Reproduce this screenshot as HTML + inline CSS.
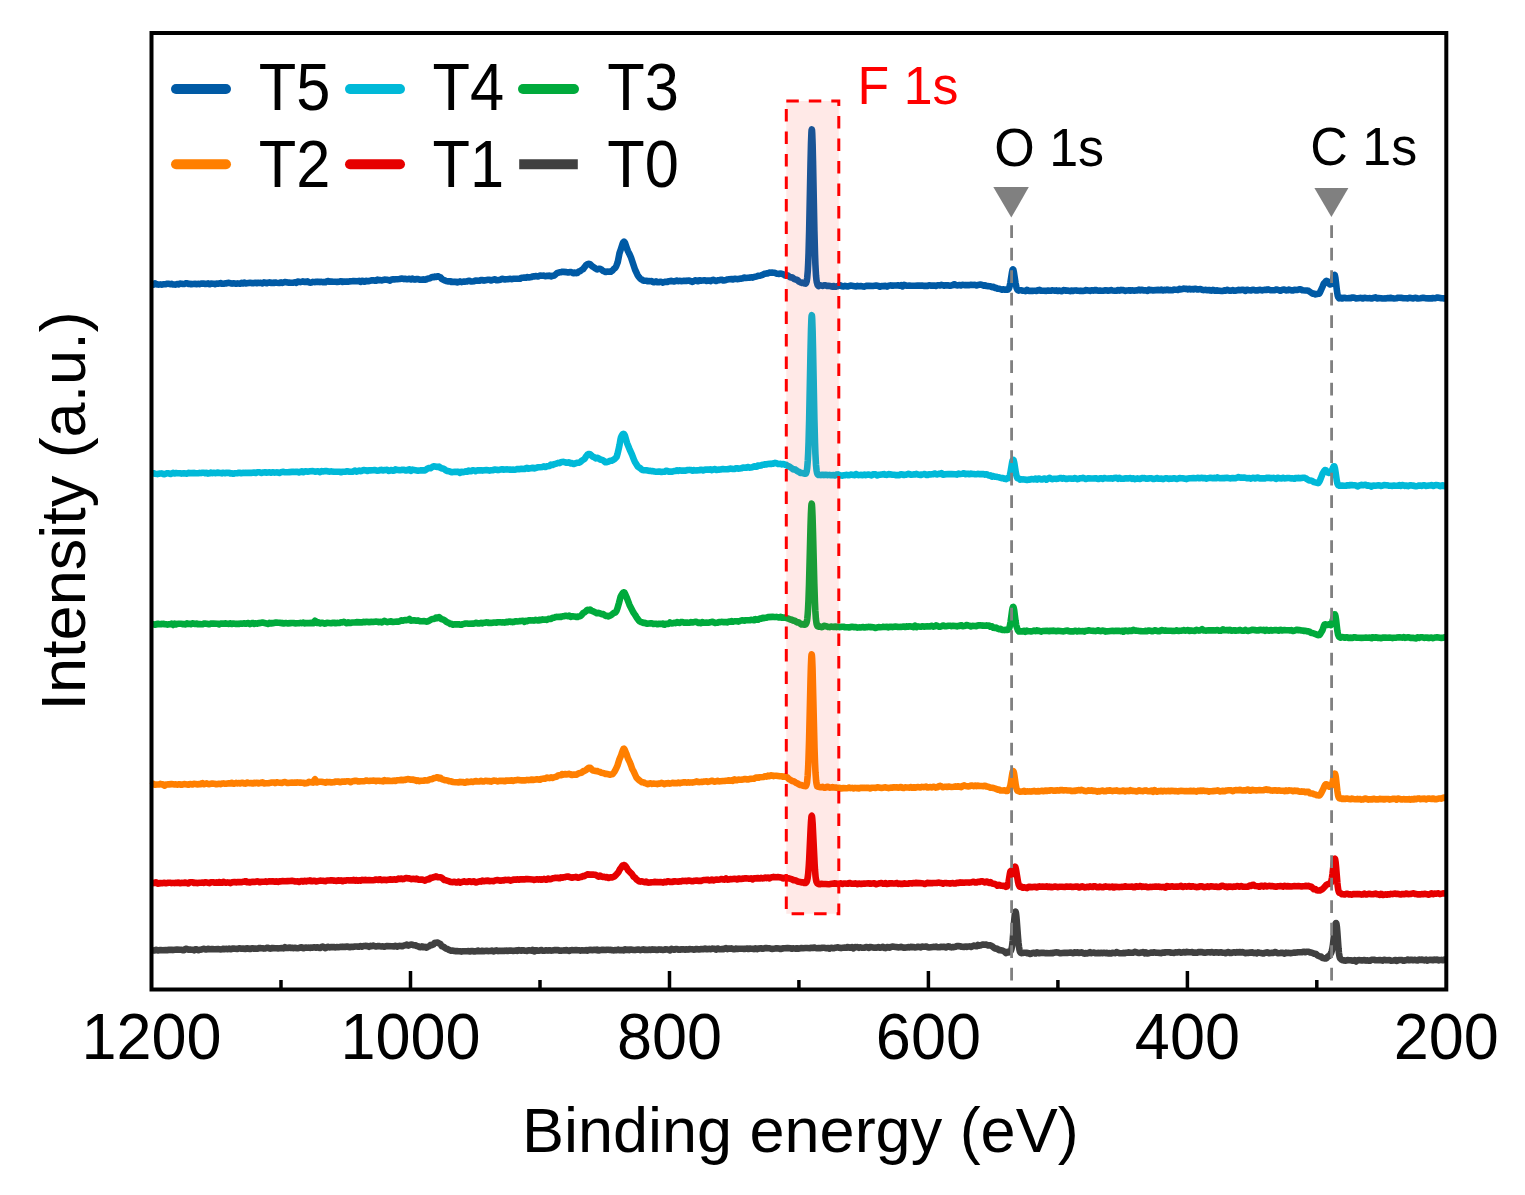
<!DOCTYPE html>
<html>
<head>
<meta charset="utf-8">
<style>
html,body{margin:0;padding:0;background:#fff;}
svg{display:block;}
text{font-family:"Liberation Sans",Arial,sans-serif;}
</style>
</head>
<body>
<svg width="1525" height="1195" viewBox="0 0 1525 1195">
<rect x="0" y="0" width="1525" height="1195" fill="#fff"/>
<g fill="none" stroke-width="6.6" stroke-linejoin="round" stroke-linecap="butt">
<path d="M152.0,950.4 L153.5,950.5 L154.5,950.4 L155.0,950.3 L156.0,949.9 L156.5,949.9 L157.5,950.5 L158.0,950.5 L159.0,950.3 L160.5,950.0 L162.0,950.3 L166.0,950.1 L167.5,950.2 L168.5,949.8 L169.0,949.8 L170.0,949.9 L171.5,949.8 L173.0,950.1 L177.0,949.6 L180.0,949.8 L181.5,949.7 L182.5,950.1 L183.0,950.2 L184.0,950.1 L184.5,949.8 L185.5,948.9 L186.0,948.8 L187.0,949.0 L188.5,949.6 L190.0,949.5 L191.0,949.7 L192.5,949.7 L194.0,950.3 L195.0,949.5 L195.5,949.2 L196.5,949.3 L197.0,949.5 L198.0,950.1 L198.5,950.1 L199.5,949.7 L201.0,949.7 L203.5,948.9 L204.0,948.9 L205.0,949.3 L205.5,949.4 L206.5,949.4 L208.0,948.9 L210.5,949.2 L211.0,949.2 L212.0,949.0 L212.5,949.0 L213.5,949.2 L215.0,949.2 L218.0,949.0 L219.0,949.3 L220.5,949.4 L222.0,949.2 L223.5,948.8 L224.5,949.2 L225.0,949.2 L226.0,948.9 L226.5,948.9 L227.5,949.3 L228.0,949.1 L229.0,948.6 L230.5,949.2 L233.0,948.5 L233.5,948.5 L235.0,948.8 L237.0,948.9 L237.5,948.9 L239.0,948.4 L240.0,948.4 L241.5,948.8 L243.0,948.6 L245.5,948.9 L246.0,948.8 L247.0,948.2 L247.5,948.2 L248.5,948.7 L250.0,949.0 L251.5,948.5 L252.5,948.3 L253.0,948.3 L254.0,948.7 L254.5,948.8 L255.5,948.6 L257.0,948.8 L259.5,948.0 L260.0,948.0 L261.0,948.3 L261.5,948.3 L262.5,948.2 L264.0,948.6 L265.5,948.4 L266.5,947.9 L267.0,947.8 L268.0,947.9 L269.5,948.5 L270.0,948.6 L271.0,948.5 L272.5,948.0 L275.0,948.3 L276.5,948.3 L278.0,948.4 L279.5,948.2 L282.0,948.0 L283.5,948.4 L284.0,948.1 L285.0,947.2 L286.5,947.9 L287.5,948.0 L288.0,947.9 L289.0,947.5 L289.5,947.6 L290.5,948.0 L292.0,947.7 L293.5,948.2 L294.5,947.9 L295.0,947.9 L297.5,948.2 L299.0,947.9 L300.5,947.5 L301.5,947.3 L302.0,947.4 L303.0,948.2 L303.5,948.2 L304.5,947.7 L306.0,947.5 L307.5,947.7 L309.0,947.6 L310.0,947.9 L310.5,947.9 L311.5,947.6 L313.0,947.6 L314.5,947.3 L315.5,947.6 L316.0,947.6 L317.0,947.2 L317.5,947.3 L318.5,947.7 L320.0,948.0 L321.5,946.9 L322.5,946.6 L323.0,946.7 L324.0,947.5 L325.5,948.2 L326.0,947.9 L327.0,947.0 L328.0,946.9 L328.5,946.9 L329.5,947.4 L330.0,947.4 L331.0,947.1 L331.5,947.0 L334.0,947.1 L335.5,947.4 L336.5,947.1 L337.0,947.1 L338.0,947.2 L338.5,947.2 L341.0,946.8 L342.5,946.9 L343.5,946.7 L344.0,946.7 L345.0,947.0 L345.5,946.9 L346.5,946.6 L348.0,946.5 L349.0,947.1 L349.5,947.3 L351.0,946.8 L352.0,946.7 L353.5,946.9 L355.0,946.5 L356.5,946.5 L358.0,946.6 L359.0,946.6 L360.5,946.0 L361.0,946.2 L362.0,946.6 L363.5,946.1 L365.0,945.9 L367.5,946.1 L369.0,946.8 L370.0,946.1 L370.5,945.8 L371.5,946.2 L372.0,946.1 L373.0,945.6 L373.5,945.6 L374.5,946.1 L376.0,946.5 L377.5,946.1 L379.0,946.0 L380.0,946.2 L381.5,946.4 L383.0,946.4 L384.5,946.8 L386.0,946.2 L387.0,946.0 L391.5,946.3 L394.0,946.4 L394.5,946.3 L395.5,945.8 L396.0,946.1 L397.0,946.7 L398.5,946.1 L399.5,945.9 L400.0,945.9 L401.0,946.1 L401.5,946.2 L402.5,946.1 L404.0,945.5 L405.5,945.1 L406.5,944.6 L407.0,944.7 L408.0,945.5 L408.5,945.6 L411.0,944.5 L412.5,944.8 L413.5,945.2 L414.0,945.3 L415.0,945.2 L415.5,945.3 L416.5,946.0 L418.0,946.2 L419.5,947.1 L420.5,947.3 L421.0,947.1 L422.0,946.4 L422.5,946.5 L423.5,947.3 L424.0,947.2 L425.0,946.8 L426.0,947.4 L426.5,947.6 L428.0,946.7 L429.0,946.3 L429.5,946.0 L430.5,945.0 L431.0,944.9 L432.0,945.1 L433.0,944.6 L433.5,944.3 L434.5,943.1 L435.0,942.7 L436.0,942.8 L437.5,942.6 L438.0,942.7 L439.0,943.4 L440.0,943.8 L440.5,944.1 L441.5,945.8 L442.0,946.3 L443.0,946.5 L443.5,946.8 L446.0,948.6 L447.5,949.0 L449.0,949.9 L451.5,950.8 L452.0,950.8 L453.0,950.6 L454.5,951.0 L455.5,951.1 L457.0,951.1 L458.5,951.3 L460.0,951.2 L461.5,951.6 L463.0,951.3 L464.0,951.3 L465.5,951.2 L467.0,951.2 L468.5,951.0 L469.5,951.4 L470.0,951.5 L471.0,951.0 L471.5,951.0 L472.5,951.1 L474.0,951.4 L475.5,951.4 L477.0,951.0 L478.0,950.6 L478.5,950.7 L479.5,951.3 L481.0,951.2 L482.0,950.8 L482.5,950.7 L483.5,951.2 L484.0,951.3 L485.0,950.9 L486.5,950.7 L488.0,951.1 L489.5,951.0 L490.5,951.0 L491.0,951.0 L492.0,950.5 L492.5,950.7 L493.5,951.5 L494.0,951.3 L495.0,950.7 L496.0,950.5 L496.5,950.4 L497.5,951.0 L498.0,951.1 L499.0,950.8 L499.5,950.8 L500.5,951.0 L502.0,950.8 L504.5,950.9 L505.0,950.9 L506.0,950.6 L506.5,950.7 L507.5,951.0 L509.0,950.6 L510.5,950.5 L512.0,950.8 L513.0,950.9 L516.0,950.4 L517.0,950.8 L517.5,950.9 L518.5,950.3 L519.0,950.1 L521.5,950.7 L523.0,950.2 L524.5,950.7 L526.0,950.7 L527.0,950.9 L527.5,950.8 L528.5,950.4 L530.0,950.4 L531.0,950.6 L531.5,950.6 L532.5,949.9 L533.0,950.0 L534.0,951.4 L534.5,951.4 L535.5,950.4 L536.0,950.3 L537.0,950.3 L538.5,950.8 L540.0,950.4 L541.0,950.0 L541.5,950.1 L542.5,950.7 L544.0,950.8 L545.5,950.3 L547.0,950.4 L548.0,950.6 L548.5,950.5 L549.5,950.2 L551.0,950.6 L552.5,950.5 L555.0,950.0 L555.5,950.0 L556.5,950.3 L558.0,950.1 L559.5,950.7 L561.0,950.5 L562.0,950.6 L563.5,950.4 L565.0,950.4 L566.5,950.1 L569.0,950.9 L569.5,950.8 L570.5,950.3 L571.0,950.2 L572.0,950.1 L573.5,950.2 L576.0,950.0 L577.5,950.3 L579.0,950.2 L580.5,950.7 L581.5,950.4 L582.0,950.3 L584.5,950.5 L586.0,950.1 L587.0,950.5 L587.5,950.7 L588.5,950.1 L589.0,950.0 L590.0,949.9 L593.0,950.1 L594.5,949.7 L595.5,950.0 L596.0,950.1 L597.0,949.6 L597.5,949.8 L598.5,950.5 L599.0,950.5 L600.0,950.1 L601.5,949.9 L603.0,949.8 L605.5,950.0 L607.0,949.7 L608.5,949.8 L610.0,950.0 L611.0,949.9 L611.5,950.0 L612.5,950.3 L614.0,950.4 L615.5,950.0 L616.5,950.1 L617.0,950.1 L618.0,949.6 L618.5,949.7 L619.5,950.1 L621.0,950.0 L622.5,950.1 L623.5,950.4 L624.0,950.3 L625.0,949.3 L625.5,949.3 L626.5,949.9 L627.0,949.9 L628.0,949.5 L629.0,949.9 L629.5,950.1 L630.5,949.6 L631.0,949.5 L633.5,949.9 L635.0,950.1 L638.0,949.6 L639.0,949.6 L640.5,950.1 L642.0,949.8 L643.0,949.4 L643.5,949.2 L644.5,949.9 L645.0,950.0 L646.0,949.9 L647.5,950.0 L649.0,949.6 L650.5,949.9 L651.5,949.5 L652.0,949.4 L653.0,949.8 L653.5,949.8 L654.5,949.5 L656.0,949.9 L657.0,950.0 L657.5,949.9 L658.5,949.5 L659.0,949.4 L660.0,949.6 L661.5,949.6 L663.0,950.0 L664.5,949.8 L665.5,949.3 L666.0,949.2 L667.0,949.6 L668.5,949.8 L670.0,950.3 L671.0,949.3 L671.5,948.9 L673.0,949.4 L674.0,949.8 L674.5,949.7 L675.5,949.0 L676.0,949.0 L677.0,949.0 L678.5,949.6 L679.5,949.7 L680.0,949.7 L681.0,949.2 L681.5,949.2 L682.5,949.5 L684.0,949.4 L685.5,949.8 L686.5,949.4 L687.0,949.4 L688.0,949.6 L688.5,949.5 L689.5,949.0 L691.0,949.2 L692.5,949.3 L693.5,949.6 L694.0,949.6 L695.0,949.5 L696.5,949.0 L698.0,949.4 L699.5,949.4 L701.0,949.1 L703.5,949.1 L705.0,948.5 L706.5,949.2 L708.0,949.1 L709.0,948.8 L709.5,948.9 L710.5,949.3 L711.0,949.1 L712.0,948.6 L713.5,948.8 L714.5,948.9 L715.0,949.0 L716.0,949.6 L716.5,949.4 L717.5,948.5 L718.0,948.6 L719.0,949.2 L720.5,949.3 L722.0,949.1 L723.0,949.3 L723.5,949.2 L724.5,948.6 L726.0,948.1 L727.0,948.8 L727.5,949.1 L728.5,948.6 L729.0,948.5 L730.0,948.7 L730.5,948.7 L731.5,948.4 L733.0,949.2 L734.5,949.1 L735.5,948.7 L736.0,948.6 L737.0,949.0 L737.5,949.0 L738.5,948.8 L740.0,948.7 L741.5,948.7 L743.0,948.7 L744.0,948.9 L744.5,948.9 L747.0,948.5 L748.5,949.0 L749.5,948.5 L750.0,948.5 L751.0,948.7 L752.5,948.7 L754.0,949.1 L755.0,948.6 L755.5,948.4 L756.5,949.0 L757.0,949.1 L758.0,948.7 L758.5,948.6 L761.0,948.3 L762.5,948.7 L764.0,948.4 L765.0,948.1 L766.5,948.1 L768.0,948.2 L769.5,948.2 L771.0,948.8 L772.0,948.9 L775.0,948.5 L776.5,948.2 L779.0,948.6 L780.5,949.0 L783.5,948.2 L785.0,948.2 L787.5,948.0 L790.5,948.3 L791.5,948.7 L792.0,948.7 L793.0,948.3 L793.5,948.3 L794.5,948.6 L796.0,948.8 L797.0,948.3 L797.5,948.2 L798.5,948.6 L799.0,948.6 L801.5,948.0 L803.0,948.2 L805.5,948.0 L807.0,948.0 L810.0,948.2 L811.5,947.7 L812.5,947.9 L813.0,947.9 L814.0,947.5 L814.5,947.6 L815.5,948.0 L817.0,948.2 L818.5,948.0 L821.0,948.1 L821.5,948.0 L822.5,947.7 L824.0,947.8 L826.5,948.2 L827.0,948.2 L828.0,948.0 L828.5,948.1 L829.5,948.7 L830.0,948.4 L831.0,947.8 L832.5,948.1 L833.5,948.2 L834.0,948.2 L835.5,947.7 L838.0,947.3 L839.5,947.8 L840.5,948.0 L841.0,948.1 L842.0,947.8 L843.5,947.8 L845.0,947.5 L846.0,947.8 L846.5,947.8 L847.5,947.1 L848.0,947.0 L849.0,947.6 L849.5,947.7 L850.5,947.6 L852.0,947.1 L853.0,948.0 L853.5,948.3 L854.5,947.4 L855.0,947.1 L856.0,947.2 L857.5,947.1 L859.0,947.9 L860.0,947.4 L860.5,947.3 L861.5,947.6 L862.0,947.8 L863.0,947.7 L864.5,947.6 L866.0,947.0 L867.5,947.3 L868.5,947.9 L869.0,947.9 L870.0,947.1 L870.5,947.0 L873.0,947.4 L874.5,947.7 L876.0,947.5 L877.0,947.6 L877.5,947.5 L878.5,947.0 L879.0,947.2 L880.0,947.7 L881.5,947.5 L882.5,946.9 L883.0,946.9 L884.0,947.7 L884.5,947.9 L885.5,948.1 L886.0,947.8 L887.0,947.0 L888.5,947.3 L889.5,947.7 L890.0,947.6 L891.0,946.9 L891.5,946.7 L892.5,946.6 L895.5,947.0 L897.0,947.1 L898.0,947.4 L898.5,947.4 L899.5,947.3 L901.0,946.7 L902.5,947.4 L903.5,947.7 L904.0,947.8 L905.0,947.6 L906.5,947.5 L908.0,947.1 L909.5,947.4 L910.5,946.9 L911.0,946.8 L912.0,947.3 L912.5,947.3 L913.5,947.1 L915.0,947.4 L916.5,947.2 L917.5,946.8 L918.0,946.7 L920.5,947.4 L921.0,947.2 L922.0,946.6 L923.5,946.8 L925.0,946.7 L926.0,946.5 L926.5,946.6 L927.5,947.2 L929.0,947.4 L933.0,946.9 L934.5,947.0 L936.0,946.6 L937.5,947.2 L940.0,947.2 L941.5,946.7 L943.0,946.9 L944.5,946.8 L945.5,947.3 L946.0,947.4 L947.0,947.0 L948.5,946.2 L949.0,946.4 L950.0,947.0 L951.5,947.4 L953.0,947.0 L954.0,947.1 L955.5,946.8 L957.0,946.1 L958.5,946.1 L960.0,946.3 L961.5,946.7 L964.0,946.9 L965.5,946.6 L966.5,946.9 L967.0,946.9 L968.0,946.6 L969.5,946.4 L971.0,946.9 L973.5,945.7 L974.0,945.6 L975.0,946.0 L976.5,946.3 L977.0,945.9 L978.0,944.9 L979.5,945.6 L981.0,945.2 L982.0,944.8 L982.5,944.6 L983.5,944.5 L985.0,944.7 L986.0,944.6 L986.5,944.7 L987.5,945.2 L988.0,945.4 L989.0,945.4 L990.5,945.3 L992.0,946.1 L994.5,948.2 L995.0,948.4 L996.0,948.5 L997.5,949.0 L999.0,950.1 L1000.5,950.1 L1002.0,950.6 L1003.0,950.8 L1004.5,951.6 L1006.0,953.0 L1007.5,951.9 L1008.7,952.4 L1009.0,952.3 L1009.7,951.9 L1010.5,951.2 L1010.9,950.7 L1011.5,949.0 L1012.1,945.8 L1012.7,940.5 L1014.3,919.6 L1014.7,915.3 L1015.1,912.6 L1015.3,911.9 L1015.5,911.7 L1015.7,912.0 L1015.9,912.8 L1016.3,915.7 L1016.7,920.1 L1018.1,938.6 L1018.5,942.9 L1019.0,947.0 L1019.5,949.9 L1020.0,951.8 L1020.5,952.6 L1020.9,952.9 L1021.3,953.1 L1021.9,953.1 L1022.9,952.9 L1024.0,952.8 L1025.5,952.7 L1027.0,953.2 L1028.0,953.0 L1028.5,953.0 L1029.5,953.7 L1030.0,953.9 L1031.0,953.7 L1032.5,953.0 L1033.0,952.9 L1034.0,952.9 L1035.0,953.4 L1035.5,953.5 L1036.5,952.6 L1037.0,952.4 L1039.5,953.3 L1040.0,953.1 L1041.0,952.7 L1044.0,952.9 L1045.0,953.2 L1045.5,953.2 L1046.5,953.1 L1049.5,953.2 L1050.5,953.1 L1051.0,953.1 L1052.0,953.3 L1052.5,953.3 L1053.5,952.8 L1054.0,952.7 L1055.0,952.5 L1056.5,952.4 L1058.0,952.5 L1059.0,952.8 L1060.5,953.3 L1064.5,952.7 L1067.5,952.9 L1069.0,952.8 L1070.5,952.5 L1072.0,952.9 L1073.0,953.3 L1073.5,953.1 L1074.5,952.3 L1075.0,952.4 L1076.0,952.9 L1077.0,952.4 L1077.5,952.3 L1078.5,952.9 L1079.0,953.0 L1080.0,952.8 L1081.5,952.3 L1082.0,952.5 L1083.0,953.0 L1084.0,953.5 L1084.5,953.6 L1085.5,953.2 L1086.0,953.1 L1087.0,953.4 L1087.5,953.3 L1088.5,953.0 L1090.0,952.2 L1091.0,952.9 L1091.5,953.1 L1094.0,952.5 L1094.5,952.7 L1095.5,953.2 L1096.0,953.2 L1098.5,952.9 L1099.5,953.2 L1100.0,953.2 L1101.0,952.8 L1101.5,952.8 L1102.5,953.2 L1104.0,952.7 L1105.5,953.1 L1106.5,952.7 L1107.0,952.7 L1108.0,953.4 L1108.5,953.4 L1109.5,953.1 L1111.0,953.5 L1112.5,952.7 L1114.0,952.9 L1115.0,953.2 L1115.5,953.0 L1116.5,952.1 L1117.0,952.2 L1119.5,953.3 L1121.0,953.2 L1122.0,953.3 L1122.5,953.2 L1123.5,952.9 L1125.0,953.2 L1126.5,952.7 L1129.0,952.4 L1130.5,952.7 L1133.0,952.7 L1133.5,952.6 L1134.5,951.9 L1135.0,951.8 L1137.5,952.7 L1139.0,953.0 L1140.5,952.6 L1142.0,952.5 L1143.0,952.1 L1143.5,952.3 L1144.5,953.4 L1145.0,953.2 L1146.0,952.4 L1147.5,953.4 L1149.0,953.2 L1150.0,952.9 L1151.5,952.5 L1153.0,952.7 L1154.5,952.3 L1155.5,952.6 L1156.0,952.7 L1157.5,952.7 L1161.5,953.1 L1162.5,952.6 L1163.0,952.5 L1164.0,952.8 L1164.5,952.8 L1165.5,952.3 L1166.0,952.2 L1167.0,952.2 L1168.5,952.3 L1169.5,952.2 L1170.0,952.2 L1171.0,952.7 L1171.5,952.8 L1172.5,952.8 L1174.0,952.9 L1175.5,952.4 L1177.0,952.5 L1179.5,952.0 L1181.0,952.6 L1182.5,952.5 L1183.5,952.1 L1184.0,952.1 L1185.0,952.5 L1185.5,952.4 L1186.5,951.8 L1187.0,951.9 L1188.0,952.3 L1189.5,952.2 L1191.0,952.2 L1192.0,952.1 L1192.5,952.2 L1193.5,952.7 L1195.0,952.6 L1196.5,952.8 L1199.0,952.0 L1199.5,952.0 L1200.5,952.3 L1202.0,952.0 L1203.5,952.6 L1204.5,952.8 L1205.0,952.8 L1207.5,952.3 L1209.0,952.3 L1210.5,952.5 L1211.5,952.1 L1212.0,952.1 L1213.0,952.5 L1213.5,952.6 L1214.5,952.6 L1216.0,952.3 L1219.0,952.6 L1220.0,952.3 L1221.5,952.3 L1223.0,952.8 L1224.5,952.7 L1225.5,953.1 L1226.0,953.1 L1227.0,952.4 L1227.5,952.2 L1228.5,952.0 L1230.0,953.0 L1231.0,953.0 L1231.5,952.9 L1233.0,952.4 L1234.0,952.2 L1234.5,952.3 L1235.5,952.6 L1237.0,952.1 L1238.0,952.4 L1238.5,952.5 L1239.5,952.1 L1240.0,952.0 L1241.0,952.5 L1241.5,952.5 L1242.5,952.0 L1243.0,952.2 L1245.0,953.1 L1245.5,953.2 L1246.5,952.8 L1247.0,952.7 L1248.0,953.0 L1248.5,952.9 L1249.5,952.6 L1252.5,952.4 L1253.5,953.0 L1254.0,953.1 L1255.0,952.9 L1255.5,952.9 L1256.5,953.4 L1257.0,953.1 L1258.0,952.4 L1259.5,952.8 L1261.0,953.0 L1262.5,953.4 L1263.5,953.5 L1265.0,952.7 L1267.5,952.4 L1268.0,952.5 L1269.0,953.2 L1269.5,953.3 L1270.5,952.9 L1272.0,952.7 L1273.0,952.9 L1273.5,952.9 L1274.5,952.2 L1275.0,952.1 L1276.0,952.3 L1276.5,952.6 L1277.5,953.2 L1278.0,953.2 L1280.5,953.0 L1281.5,952.7 L1282.0,952.7 L1284.5,953.6 L1285.0,953.3 L1286.0,952.6 L1287.5,953.0 L1289.0,952.9 L1290.0,953.1 L1290.5,953.1 L1293.0,952.8 L1294.5,952.5 L1295.5,952.6 L1296.0,952.6 L1297.0,952.4 L1297.5,952.3 L1298.5,952.3 L1300.0,952.2 L1301.5,952.3 L1303.0,951.8 L1304.0,951.8 L1305.5,952.2 L1307.0,951.7 L1308.0,951.7 L1308.5,951.8 L1310.0,952.4 L1311.0,952.5 L1312.0,952.8 L1314.0,953.6 L1315.5,953.7 L1317.0,954.9 L1318.5,955.9 L1319.5,956.4 L1321.0,956.5 L1322.0,957.6 L1322.5,958.0 L1324.0,958.2 L1325.0,958.5 L1325.5,958.5 L1326.0,958.4 L1326.5,958.1 L1327.0,957.6 L1328.0,956.4 L1329.3,955.9 L1329.5,955.7 L1330.5,954.2 L1331.3,952.5 L1331.7,951.3 L1332.3,948.7 L1332.9,945.0 L1334.5,930.9 L1335.1,926.3 L1335.5,924.2 L1335.7,923.5 L1336.0,923.1 L1336.1,923.1 L1336.3,923.4 L1336.5,924.1 L1336.9,927.0 L1337.3,931.6 L1338.5,948.4 L1338.9,952.6 L1339.3,955.6 L1339.7,957.3 L1340.1,958.3 L1341.1,959.4 L1342.1,960.0 L1343.5,960.4 L1346.0,960.6 L1346.5,960.5 L1347.5,960.1 L1349.0,960.3 L1350.5,960.3 L1352.0,960.6 L1353.0,960.7 L1353.5,960.6 L1354.5,960.1 L1355.0,960.5 L1356.0,961.5 L1357.5,960.2 L1359.0,960.1 L1360.0,960.3 L1361.5,960.4 L1363.0,960.4 L1364.0,960.1 L1364.5,960.0 L1365.5,960.5 L1366.0,960.6 L1367.0,960.3 L1367.5,960.3 L1368.5,960.7 L1369.0,960.7 L1370.0,960.7 L1371.5,959.7 L1374.0,959.8 L1375.5,960.2 L1378.5,960.3 L1379.5,960.0 L1380.0,960.0 L1382.5,960.6 L1383.0,960.4 L1384.0,959.7 L1385.5,960.1 L1386.5,960.2 L1389.5,960.1 L1391.0,960.8 L1393.5,960.5 L1394.0,960.4 L1395.0,960.0 L1395.5,960.1 L1396.5,960.9 L1397.0,960.8 L1398.0,960.3 L1399.5,960.0 L1401.0,960.0 L1402.0,960.0 L1402.5,960.2 L1403.5,960.8 L1404.0,960.7 L1405.0,960.2 L1406.5,960.1 L1407.5,959.6 L1408.0,959.5 L1409.0,960.3 L1409.5,960.3 L1410.5,959.8 L1412.0,959.7 L1413.0,960.2 L1413.5,960.3 L1414.5,959.9 L1415.0,959.9 L1416.0,960.3 L1417.5,960.5 L1419.0,959.5 L1420.5,960.0 L1421.5,959.7 L1422.0,959.6 L1423.0,960.0 L1424.5,960.4 L1426.0,959.6 L1427.0,960.4 L1427.5,960.7 L1429.0,959.9 L1430.0,959.7 L1430.5,959.7 L1433.0,960.3 L1434.0,959.8 L1434.5,959.6 L1435.5,959.9 L1436.0,960.0 L1437.0,959.6 L1437.5,959.8 L1438.5,960.4 L1439.0,960.3 L1440.0,960.1 L1441.5,959.9 L1442.5,960.3 L1443.0,960.3 L1444.0,959.7 L1444.5,959.6 L1445.5,959.8 L1446.0,960.1" stroke="#404040"/>
<path d="M152.0,883.2 L153.5,882.9 L154.5,882.9 L155.0,882.8 L156.0,882.3 L156.5,882.5 L157.5,883.6 L158.0,883.6 L159.0,883.5 L160.5,883.0 L161.5,883.2 L162.0,883.3 L164.5,882.8 L166.0,883.3 L167.5,882.9 L169.0,882.8 L170.0,882.7 L170.5,882.8 L171.5,883.1 L173.0,882.9 L174.5,883.1 L175.5,882.8 L176.0,882.7 L177.0,882.9 L177.5,882.9 L178.5,882.6 L180.0,883.2 L181.5,882.9 L184.0,883.0 L185.5,882.5 L188.0,883.4 L188.5,883.4 L189.5,882.5 L190.0,882.2 L191.0,882.2 L192.5,882.2 L194.0,883.0 L195.5,882.8 L197.0,883.1 L199.5,882.8 L201.0,882.8 L202.5,882.6 L203.5,882.9 L204.0,882.8 L205.0,882.3 L205.5,882.3 L208.0,882.7 L209.0,883.0 L209.5,883.1 L210.5,882.5 L211.0,882.3 L212.0,882.2 L213.5,882.3 L215.0,882.8 L216.5,882.4 L217.5,882.8 L218.0,882.8 L219.0,882.0 L219.5,882.0 L220.5,882.7 L221.0,882.8 L222.0,882.8 L223.0,882.1 L223.5,881.9 L225.0,882.5 L226.0,882.7 L226.5,882.7 L227.5,882.4 L229.0,882.6 L230.0,883.0 L230.5,883.1 L232.0,882.3 L234.5,882.0 L236.0,882.4 L237.5,882.1 L240.0,882.1 L241.5,882.3 L243.0,881.7 L244.5,881.5 L245.5,881.2 L246.0,881.3 L247.0,882.2 L247.5,882.3 L248.5,882.0 L250.0,882.5 L251.5,881.9 L252.5,881.7 L253.0,881.7 L254.0,882.0 L254.5,882.0 L255.5,881.8 L257.0,881.4 L258.5,881.5 L259.5,882.2 L260.0,882.3 L261.0,881.9 L262.5,881.8 L265.0,881.5 L265.5,881.4 L266.5,881.8 L267.0,881.9 L269.5,881.3 L271.0,881.5 L272.5,881.2 L275.0,881.8 L275.5,881.7 L276.5,881.2 L277.0,881.4 L278.0,881.9 L279.5,881.2 L280.5,881.4 L281.0,881.4 L282.0,881.1 L282.5,881.1 L285.0,881.3 L287.5,881.1 L290.5,881.0 L292.0,880.7 L293.5,881.1 L295.0,881.4 L296.0,881.5 L297.5,881.4 L299.0,882.0 L300.5,881.2 L301.5,881.0 L302.0,881.1 L303.0,881.6 L303.5,881.5 L304.5,880.8 L305.0,880.9 L306.0,881.4 L307.5,880.7 L308.5,881.0 L309.0,881.0 L310.0,880.4 L310.5,880.5 L311.5,881.2 L312.0,881.2 L314.0,880.7 L314.5,880.7 L315.5,881.3 L316.0,881.5 L320.0,880.6 L321.5,880.8 L323.0,880.8 L324.0,881.0 L325.5,881.1 L327.0,880.5 L329.5,880.5 L331.0,880.3 L331.5,880.3 L334.0,880.6 L336.5,881.0 L337.0,881.0 L338.0,880.4 L338.5,880.4 L339.5,880.7 L341.0,880.4 L342.0,881.0 L342.5,881.2 L343.5,880.7 L344.0,880.5 L345.0,880.6 L345.5,880.6 L346.5,880.2 L348.0,880.2 L349.5,880.5 L351.0,880.3 L352.0,880.5 L352.5,880.4 L353.5,879.9 L354.0,880.0 L355.0,880.6 L356.0,880.2 L356.5,880.1 L357.5,880.7 L358.0,880.8 L359.0,880.3 L359.5,880.3 L360.5,880.6 L361.0,880.4 L362.0,879.8 L363.5,880.3 L364.5,880.0 L365.0,879.9 L367.5,880.2 L369.0,880.0 L371.5,880.3 L373.0,880.3 L374.5,880.0 L376.0,879.5 L378.5,879.9 L379.0,879.8 L380.0,879.3 L380.5,879.4 L381.5,880.1 L382.0,880.1 L383.0,879.8 L384.0,879.8 L384.5,879.8 L386.0,880.1 L388.5,879.8 L390.0,879.3 L391.5,879.7 L393.0,879.6 L394.0,879.3 L394.5,879.4 L395.5,879.8 L397.0,879.5 L398.0,878.8 L398.5,878.6 L399.5,879.0 L400.0,879.0 L401.0,878.5 L401.5,878.6 L402.5,879.1 L403.0,879.1 L404.0,878.9 L405.5,878.1 L407.0,878.1 L408.0,878.4 L409.5,878.4 L411.0,879.1 L413.5,878.8 L414.0,878.8 L415.0,879.1 L415.5,879.1 L416.5,878.5 L417.0,878.8 L418.0,879.5 L419.0,879.7 L419.5,879.8 L421.0,879.6 L422.0,879.6 L422.5,879.7 L425.0,880.6 L427.5,879.2 L428.0,879.1 L429.0,879.4 L429.5,879.1 L430.5,877.8 L431.0,877.8 L432.0,878.0 L433.5,877.1 L434.5,877.1 L435.0,877.0 L436.0,876.4 L436.5,876.5 L437.5,877.1 L439.0,877.2 L440.5,877.2 L441.5,877.7 L442.0,878.0 L443.5,879.3 L444.5,880.1 L446.0,880.3 L448.5,881.1 L450.0,881.8 L450.5,881.9 L453.0,882.1 L454.0,881.8 L454.5,881.7 L455.5,882.2 L456.0,882.4 L457.0,882.4 L457.5,882.3 L458.5,881.6 L459.0,881.9 L460.0,882.7 L461.5,882.1 L464.0,881.3 L464.5,881.4 L465.5,882.0 L466.0,882.0 L467.0,882.0 L469.5,881.2 L470.0,881.2 L471.0,881.9 L471.5,881.9 L472.5,881.5 L474.0,881.4 L475.0,882.2 L475.5,882.5 L477.0,882.2 L479.5,881.3 L481.0,881.6 L482.0,880.8 L482.5,880.6 L483.5,881.1 L484.0,881.3 L485.5,880.9 L488.0,880.6 L489.5,881.2 L491.0,881.0 L492.0,881.0 L493.5,881.1 L495.0,880.5 L497.5,880.1 L498.0,880.1 L500.5,880.8 L502.0,880.4 L503.5,880.5 L504.5,880.0 L505.0,879.9 L506.0,880.0 L506.5,880.0 L509.0,879.7 L510.0,880.4 L510.5,880.7 L512.0,880.2 L513.0,879.7 L513.5,879.6 L514.5,879.6 L516.0,879.8 L517.0,879.4 L517.5,879.3 L518.5,879.7 L519.0,879.8 L520.0,879.3 L520.5,879.3 L521.5,879.5 L523.0,879.3 L524.5,879.4 L526.0,879.1 L527.0,879.0 L532.5,879.5 L533.0,879.5 L534.0,879.9 L534.5,879.9 L537.0,879.3 L538.5,879.6 L539.5,879.3 L540.0,879.3 L541.0,879.8 L541.5,879.8 L542.5,879.6 L544.0,878.9 L545.5,879.7 L546.5,879.7 L547.0,879.5 L548.0,878.6 L548.5,878.6 L549.5,879.1 L551.0,879.1 L552.5,878.3 L554.0,878.2 L555.0,877.9 L555.5,877.9 L556.5,878.0 L558.0,877.7 L559.0,878.2 L559.5,878.3 L560.5,877.5 L561.0,877.3 L562.0,877.6 L562.5,877.6 L563.5,877.2 L565.0,877.2 L566.5,876.7 L567.5,876.5 L568.0,876.5 L570.5,877.3 L572.0,877.7 L573.5,877.3 L575.0,877.2 L576.0,876.9 L576.5,877.0 L577.5,877.6 L579.0,877.6 L580.5,876.9 L581.5,876.9 L582.0,876.7 L583.0,876.1 L583.5,876.0 L584.5,876.1 L586.0,875.1 L587.0,874.6 L587.5,874.4 L590.0,874.6 L593.0,874.5 L594.5,874.7 L595.5,874.8 L596.0,875.0 L597.0,875.7 L598.5,876.6 L599.0,876.4 L600.0,875.6 L601.5,876.6 L602.5,876.9 L603.0,876.9 L604.0,876.8 L604.5,876.9 L605.5,877.4 L606.0,877.3 L607.0,877.1 L608.0,877.8 L608.5,878.0 L609.5,877.5 L610.0,877.4 L611.0,877.4 L612.5,877.4 L613.5,876.9 L614.5,876.3 L616.5,874.3 L618.0,872.7 L618.5,872.0 L620.0,869.1 L621.0,867.9 L622.5,865.7 L623.0,865.4 L623.5,865.2 L624.0,865.1 L624.5,865.2 L625.0,865.6 L625.5,866.1 L626.5,867.4 L628.0,870.1 L629.5,871.6 L630.5,872.7 L632.0,874.2 L632.5,874.9 L633.5,876.6 L634.0,877.0 L635.0,877.6 L636.5,879.4 L637.0,879.8 L639.0,881.2 L639.5,881.4 L640.5,881.6 L642.0,881.3 L644.5,882.1 L645.0,882.1 L646.0,881.6 L646.5,881.8 L647.5,882.5 L648.0,882.6 L650.5,882.5 L651.5,882.2 L652.0,882.2 L653.0,882.3 L653.5,882.2 L654.5,881.8 L656.0,882.2 L657.5,882.0 L659.0,882.2 L660.0,882.1 L660.5,882.1 L663.0,882.6 L664.0,882.0 L664.5,881.8 L665.5,882.3 L666.0,882.3 L667.0,881.6 L667.5,881.4 L668.5,881.3 L670.0,881.9 L672.5,881.9 L673.0,881.8 L674.0,881.2 L674.5,881.2 L675.5,881.5 L677.0,881.5 L678.5,881.8 L679.5,881.4 L680.0,881.3 L681.0,881.4 L681.5,881.3 L682.5,880.9 L684.0,881.0 L685.5,880.9 L686.5,881.2 L687.0,881.1 L688.0,880.7 L688.5,880.6 L689.5,880.6 L692.0,881.3 L692.5,881.3 L694.0,880.8 L695.0,880.7 L696.5,880.5 L698.0,880.9 L699.5,880.7 L700.5,880.9 L701.0,880.9 L703.5,880.0 L705.0,880.0 L707.5,879.7 L708.0,879.8 L709.0,880.4 L709.5,880.4 L710.5,880.3 L712.0,879.5 L713.0,880.2 L713.5,880.5 L716.0,879.5 L716.5,879.5 L717.5,879.8 L718.0,879.8 L720.0,879.4 L721.5,879.0 L722.0,879.0 L723.0,879.4 L723.5,879.5 L724.5,879.6 L726.0,878.5 L727.5,879.6 L729.0,879.5 L730.0,879.2 L730.5,879.1 L731.5,879.2 L734.5,878.8 L736.0,879.0 L737.0,879.4 L737.5,879.3 L738.5,878.5 L739.0,878.6 L740.0,879.0 L741.5,878.9 L743.0,878.6 L744.0,878.6 L745.5,878.3 L747.0,878.4 L748.5,878.6 L749.5,878.7 L750.0,878.6 L751.0,878.3 L751.5,878.5 L752.5,879.4 L753.0,879.1 L754.0,878.2 L755.5,878.4 L758.0,878.1 L758.5,878.2 L759.5,878.5 L760.0,878.4 L761.0,877.9 L762.5,878.4 L763.5,878.3 L764.0,878.2 L765.0,877.6 L765.5,877.6 L766.5,878.1 L767.0,878.0 L768.0,877.5 L769.0,878.3 L769.5,878.5 L770.5,877.7 L771.0,877.4 L773.5,876.9 L776.5,877.3 L778.0,877.1 L779.5,877.2 L782.0,877.7 L783.0,878.3 L783.5,878.4 L784.5,877.8 L785.0,877.7 L786.0,878.2 L786.5,878.3 L789.0,878.4 L791.5,879.1 L792.0,879.3 L793.0,879.9 L793.5,880.1 L794.5,880.2 L796.0,880.5 L797.5,881.4 L800.0,881.9 L801.5,882.4 L803.0,882.3 L804.4,883.0 L805.2,883.0 L805.8,882.9 L806.2,882.5 L806.6,881.9 L807.0,881.0 L807.6,878.3 L808.2,873.5 L808.8,865.8 L809.2,859.1 L810.6,829.1 L811.0,821.9 L811.4,817.1 L811.6,816.0 L811.8,815.8 L812.0,816.5 L812.2,817.9 L812.6,823.0 L814.6,863.6 L815.0,870.1 L815.6,877.0 L816.2,880.7 L816.5,881.8 L816.8,882.5 L817.4,883.4 L817.8,883.7 L818.5,884.0 L819.6,884.3 L820.0,884.2 L821.0,883.8 L821.5,883.8 L823.0,884.0 L825.5,884.0 L828.5,884.2 L830.0,884.1 L834.0,883.4 L836.5,883.6 L838.0,884.0 L840.5,883.4 L841.0,883.4 L842.0,883.9 L842.5,883.9 L843.5,883.5 L844.0,883.5 L845.0,883.5 L847.5,883.8 L848.0,883.7 L849.0,883.0 L849.5,883.0 L852.0,883.8 L855.0,883.4 L856.0,883.5 L857.5,884.1 L858.0,884.0 L859.0,883.5 L860.5,883.9 L861.5,883.9 L862.0,883.9 L863.0,883.6 L863.5,883.6 L864.5,883.8 L866.0,883.5 L868.5,883.3 L869.0,883.3 L870.0,883.8 L870.5,883.8 L871.5,883.5 L873.0,883.4 L874.0,883.3 L874.5,883.3 L875.5,884.0 L876.0,884.2 L878.5,883.6 L881.5,883.1 L882.5,883.5 L883.0,883.7 L884.0,883.7 L884.5,883.5 L885.5,883.1 L886.0,883.3 L887.0,884.0 L888.5,883.8 L889.5,883.3 L890.0,883.2 L892.5,883.4 L894.0,883.6 L895.5,883.4 L896.5,883.0 L897.0,883.1 L898.0,883.8 L898.5,883.9 L899.5,883.6 L901.0,883.9 L902.0,883.9 L902.5,883.9 L903.5,883.5 L904.0,883.4 L906.5,883.7 L908.0,883.7 L909.5,883.3 L910.5,883.2 L911.0,883.2 L912.0,883.4 L913.5,883.1 L915.0,883.2 L916.0,882.8 L916.5,882.7 L917.5,883.2 L918.0,883.3 L919.0,883.0 L919.5,883.0 L923.5,883.5 L924.5,883.9 L925.0,883.9 L927.5,882.8 L928.0,882.9 L929.0,883.3 L930.5,883.1 L931.5,883.3 L932.0,883.3 L933.0,883.1 L933.5,883.0 L936.0,883.0 L937.5,882.9 L938.5,882.6 L939.0,882.6 L940.0,882.9 L941.5,883.1 L943.0,883.6 L944.5,883.0 L945.5,883.0 L946.0,883.0 L947.0,883.2 L948.5,883.3 L950.0,883.6 L951.5,883.2 L952.5,883.1 L953.0,883.1 L954.0,883.4 L954.5,883.5 L955.5,883.5 L957.0,882.8 L958.5,882.9 L959.5,882.5 L960.0,882.4 L961.0,882.7 L961.5,882.7 L962.5,882.5 L964.0,882.7 L965.5,882.5 L968.0,882.5 L969.5,882.6 L971.0,882.4 L973.5,881.8 L974.0,881.8 L975.0,882.4 L975.5,882.5 L976.5,882.5 L978.0,881.8 L979.5,882.0 L980.5,881.5 L981.0,881.3 L982.0,881.3 L983.5,881.7 L985.0,882.4 L986.0,881.8 L986.5,881.6 L987.5,881.8 L988.0,882.1 L989.0,882.9 L989.5,882.9 L990.5,882.2 L991.0,882.5 L992.0,883.5 L993.5,883.8 L995.0,884.1 L996.0,884.5 L996.5,884.8 L997.5,885.7 L998.0,885.6 L999.0,884.9 L1000.5,885.5 L1001.5,885.8 L1003.2,885.9 L1004.6,885.8 L1006.0,886.9 L1006.6,886.6 L1007.2,886.1 L1007.6,885.5 L1008.0,884.3 L1008.6,881.6 L1009.9,873.6 L1010.4,871.5 L1010.7,871.1 L1010.8,871.0 L1011.0,871.2 L1012.1,873.8 L1012.4,874.2 L1012.7,874.1 L1013.0,873.5 L1013.2,872.8 L1014.4,867.5 L1014.7,866.9 L1015.0,866.7 L1015.2,866.8 L1015.4,867.1 L1015.9,869.0 L1018.0,881.8 L1018.7,884.6 L1019.3,886.0 L1019.7,886.6 L1020.0,886.8 L1020.5,886.8 L1021.3,886.6 L1021.5,886.6 L1022.7,887.7 L1022.9,887.8 L1024.0,887.3 L1024.5,887.4 L1025.5,887.8 L1027.0,888.1 L1028.5,887.0 L1029.5,886.7 L1030.0,886.7 L1031.0,887.3 L1031.5,887.3 L1032.5,887.0 L1035.0,886.7 L1035.5,886.7 L1036.5,887.3 L1037.0,887.4 L1038.0,886.8 L1039.5,886.4 L1041.0,886.7 L1042.5,886.5 L1043.5,886.8 L1044.0,886.8 L1046.5,886.4 L1048.0,887.0 L1049.5,886.6 L1051.0,887.1 L1052.0,887.2 L1052.5,887.1 L1053.5,886.7 L1055.0,886.6 L1057.5,887.1 L1058.0,887.1 L1059.0,886.8 L1059.5,886.8 L1062.0,886.8 L1064.5,887.0 L1065.0,887.0 L1066.0,886.6 L1066.5,886.6 L1069.0,886.8 L1070.5,886.6 L1072.0,886.9 L1073.0,887.0 L1076.0,886.6 L1077.0,886.5 L1077.5,886.6 L1078.5,887.2 L1079.0,887.4 L1080.0,887.2 L1081.5,886.5 L1082.0,886.4 L1083.0,886.5 L1084.5,887.4 L1086.0,887.3 L1087.0,886.9 L1087.5,886.9 L1088.5,887.2 L1089.0,886.9 L1090.0,886.3 L1091.5,886.8 L1092.5,887.0 L1093.0,886.9 L1094.0,886.3 L1094.5,886.2 L1095.5,886.5 L1097.0,887.1 L1098.5,887.2 L1099.5,886.7 L1100.0,886.6 L1101.0,886.9 L1102.5,887.3 L1103.0,887.2 L1104.0,886.7 L1105.5,886.4 L1106.5,886.7 L1107.0,886.8 L1108.0,886.7 L1108.5,886.8 L1109.5,887.2 L1112.0,886.6 L1112.5,886.6 L1113.5,887.4 L1114.0,887.5 L1115.0,886.8 L1115.5,886.7 L1116.5,886.9 L1118.0,887.0 L1119.5,887.1 L1121.0,886.9 L1122.0,887.0 L1123.5,886.8 L1125.0,886.3 L1126.5,886.7 L1129.0,886.7 L1130.5,886.8 L1132.0,886.6 L1133.5,887.3 L1134.5,887.3 L1135.0,887.2 L1136.0,886.2 L1136.5,886.2 L1137.5,886.7 L1138.0,886.7 L1139.0,886.6 L1140.0,886.1 L1140.5,886.0 L1141.5,886.7 L1142.0,886.9 L1143.0,886.6 L1144.5,886.7 L1146.0,886.6 L1147.5,887.2 L1148.5,887.2 L1149.0,887.2 L1150.0,886.9 L1151.5,887.0 L1153.0,886.8 L1154.5,886.8 L1155.5,886.6 L1156.0,886.6 L1157.0,886.8 L1157.5,886.7 L1158.5,886.6 L1160.0,886.9 L1161.0,887.0 L1161.5,887.1 L1163.0,886.9 L1164.0,887.1 L1165.5,887.7 L1166.0,887.2 L1167.0,886.0 L1168.5,886.7 L1170.0,886.6 L1171.0,886.6 L1172.5,886.3 L1174.0,886.8 L1176.5,886.5 L1178.0,886.6 L1179.5,886.5 L1181.0,885.9 L1182.0,886.7 L1182.5,887.0 L1184.0,886.5 L1185.0,886.4 L1185.5,886.4 L1186.5,886.7 L1187.0,886.7 L1188.0,886.4 L1189.0,886.0 L1189.5,886.0 L1190.5,886.7 L1191.0,886.8 L1192.0,886.2 L1192.5,886.2 L1193.5,886.5 L1195.0,886.7 L1196.5,887.1 L1198.0,887.0 L1200.5,886.3 L1201.0,886.4 L1202.0,886.4 L1203.5,887.0 L1204.5,887.2 L1205.0,887.1 L1207.5,886.4 L1209.0,886.9 L1210.5,886.4 L1211.5,886.4 L1213.0,886.5 L1214.5,886.7 L1216.0,886.6 L1217.5,886.9 L1219.0,887.0 L1220.0,886.8 L1220.5,886.5 L1221.5,885.8 L1222.0,885.8 L1223.0,885.9 L1224.5,886.6 L1225.5,886.5 L1226.0,886.6 L1227.0,887.2 L1227.5,887.1 L1228.5,886.6 L1229.0,886.5 L1230.0,886.5 L1231.5,886.8 L1232.5,886.9 L1233.0,886.8 L1234.0,886.5 L1234.5,886.5 L1235.5,886.6 L1237.0,886.1 L1238.5,886.2 L1239.5,886.7 L1240.0,886.7 L1241.0,886.1 L1241.5,886.1 L1242.5,886.7 L1247.0,886.7 L1248.0,886.6 L1248.5,886.3 L1249.5,885.6 L1250.0,885.7 L1251.0,885.9 L1251.5,885.8 L1252.5,884.9 L1253.0,884.7 L1253.5,884.8 L1254.5,885.6 L1255.0,885.9 L1255.5,886.0 L1258.0,886.3 L1259.0,886.7 L1259.5,886.8 L1260.5,886.1 L1261.0,885.9 L1262.0,885.9 L1262.5,886.1 L1263.5,886.6 L1264.0,886.3 L1265.0,885.6 L1266.5,886.5 L1269.0,885.9 L1269.5,885.9 L1270.5,886.2 L1272.0,886.0 L1273.5,886.4 L1275.0,886.5 L1276.0,886.8 L1276.5,886.7 L1277.5,886.3 L1279.0,886.3 L1280.5,886.1 L1282.0,886.3 L1283.0,886.6 L1283.5,886.4 L1284.5,885.7 L1285.0,885.9 L1286.0,886.5 L1287.5,886.1 L1291.5,886.5 L1294.5,886.1 L1296.0,886.3 L1298.5,886.1 L1301.5,886.5 L1303.0,886.2 L1304.0,886.3 L1305.5,885.8 L1307.0,886.2 L1308.0,885.9 L1308.5,885.8 L1309.5,886.5 L1310.0,886.7 L1311.0,886.6 L1311.5,886.8 L1314.0,889.3 L1315.0,889.1 L1315.5,889.1 L1316.5,890.0 L1317.0,890.3 L1318.0,890.5 L1319.0,890.5 L1320.0,890.4 L1320.5,890.2 L1322.0,889.3 L1322.5,889.0 L1323.5,888.1 L1326.5,884.8 L1327.0,884.5 L1328.0,884.1 L1330.0,883.7 L1330.4,883.4 L1330.8,882.8 L1331.4,880.8 L1332.0,877.5 L1332.5,873.9 L1333.6,864.1 L1334.0,861.1 L1334.4,859.2 L1334.6,858.7 L1334.8,858.6 L1335.0,858.9 L1335.2,859.5 L1335.6,862.0 L1336.0,866.0 L1337.4,883.1 L1337.8,886.8 L1338.2,889.5 L1338.6,891.2 L1339.2,892.7 L1339.5,892.9 L1339.8,893.1 L1340.6,893.2 L1342.0,894.2 L1343.5,894.3 L1344.5,894.5 L1345.0,894.4 L1346.0,893.9 L1346.5,893.8 L1347.5,893.9 L1349.0,894.5 L1350.5,894.3 L1351.5,894.6 L1352.0,894.6 L1353.0,894.0 L1353.5,894.0 L1354.5,894.2 L1356.0,894.0 L1357.5,894.3 L1358.5,894.1 L1359.0,894.1 L1360.0,894.3 L1361.5,894.6 L1363.0,894.4 L1364.0,893.8 L1364.5,893.6 L1365.5,894.3 L1366.0,894.5 L1367.0,894.4 L1368.5,893.9 L1369.0,893.8 L1370.0,893.9 L1371.5,894.2 L1372.5,894.3 L1373.0,894.3 L1375.5,893.6 L1377.0,894.3 L1378.5,894.3 L1379.5,894.9 L1380.0,894.8 L1381.0,893.9 L1381.5,894.0 L1382.5,895.0 L1383.0,895.0 L1384.0,894.8 L1385.5,894.3 L1386.5,894.6 L1387.0,894.7 L1388.0,894.3 L1388.5,894.2 L1389.5,894.5 L1391.0,893.9 L1392.5,894.1 L1394.0,893.7 L1395.0,893.6 L1395.5,893.7 L1396.5,894.0 L1398.0,893.9 L1399.5,894.3 L1400.5,894.5 L1401.0,894.5 L1402.0,894.1 L1402.5,894.0 L1405.0,894.1 L1406.0,893.6 L1406.5,893.5 L1407.5,894.0 L1408.0,894.1 L1410.5,894.0 L1413.0,893.4 L1413.5,893.3 L1415.0,893.9 L1416.0,894.0 L1417.5,894.4 L1419.0,894.3 L1420.5,894.4 L1421.5,894.1 L1422.0,894.1 L1423.0,894.2 L1423.5,894.2 L1424.5,893.8 L1426.0,894.1 L1427.5,894.2 L1428.5,894.6 L1429.0,894.6 L1430.0,894.0 L1431.5,893.4 L1432.0,893.6 L1433.0,894.2 L1434.5,893.5 L1436.0,893.7 L1438.5,893.3 L1440.0,894.1 L1443.0,893.4 L1444.0,893.5 L1445.5,893.4 L1446.0,893.5" stroke="#e60000"/>
<path d="M152.0,785.4 L153.0,784.3 L153.5,783.9 L154.5,784.6 L155.0,784.8 L156.0,784.5 L156.5,784.5 L159.0,784.5 L160.0,784.1 L160.5,783.9 L161.5,784.4 L162.0,784.5 L163.0,784.3 L163.5,784.6 L164.5,785.6 L165.0,785.4 L166.0,784.6 L167.5,784.4 L169.0,784.4 L171.5,784.1 L174.5,784.5 L175.5,784.4 L176.0,784.4 L177.0,784.6 L177.5,784.6 L178.5,784.3 L180.0,784.3 L181.5,784.8 L184.0,784.1 L184.5,784.1 L185.5,784.2 L187.0,784.4 L188.0,784.7 L188.5,784.8 L189.5,784.3 L190.0,784.1 L191.0,784.1 L192.5,784.5 L194.0,783.8 L195.5,784.0 L197.0,784.4 L199.5,784.1 L201.0,784.2 L202.0,783.4 L202.5,783.1 L203.5,784.0 L204.0,784.2 L205.0,783.7 L206.5,783.4 L208.0,784.0 L209.0,784.1 L209.5,784.1 L211.0,783.7 L212.0,783.5 L212.5,783.5 L213.5,783.8 L215.0,783.8 L216.5,784.3 L219.0,783.8 L220.5,784.1 L222.0,783.6 L223.5,783.4 L225.0,783.8 L226.0,783.8 L229.0,783.3 L230.0,783.5 L230.5,783.5 L231.5,782.8 L232.0,782.8 L233.0,783.6 L233.5,783.7 L234.5,783.6 L236.0,782.9 L237.5,783.4 L238.5,783.1 L239.0,783.1 L240.0,783.5 L240.5,783.4 L241.5,782.7 L242.0,782.7 L243.0,783.0 L244.5,783.5 L245.5,783.6 L246.0,783.5 L247.0,782.6 L247.5,782.6 L248.5,783.0 L250.0,783.3 L251.0,783.0 L251.5,783.0 L252.5,783.5 L253.0,783.5 L254.0,782.8 L254.5,782.8 L255.5,783.2 L257.0,782.7 L258.0,783.3 L258.5,783.5 L259.5,783.1 L260.0,783.0 L261.0,782.9 L262.5,782.4 L263.0,782.7 L264.0,783.5 L265.5,783.2 L267.0,783.2 L268.0,783.2 L268.5,783.2 L271.0,782.6 L272.5,782.5 L273.5,782.5 L274.0,782.6 L275.0,783.1 L275.5,783.0 L276.5,782.3 L277.0,782.3 L278.0,782.5 L282.0,782.9 L282.5,782.7 L283.5,782.3 L285.0,782.1 L286.5,782.7 L287.5,783.0 L288.0,783.0 L292.0,782.5 L293.5,782.7 L294.5,782.6 L295.0,782.6 L296.0,782.8 L296.5,782.8 L297.5,782.4 L299.0,782.6 L300.5,782.6 L302.0,782.8 L303.0,782.7 L303.5,782.8 L304.5,783.4 L305.0,783.3 L306.0,783.1 L307.0,783.1 L307.5,783.0 L308.5,782.1 L309.0,781.9 L310.0,782.3 L310.5,782.3 L311.5,782.2 L313.0,782.6 L313.5,782.2 L314.0,781.5 L314.5,779.8 L315.0,779.3 L315.5,780.6 L316.0,782.2 L316.5,782.5 L317.0,782.5 L317.5,782.3 L318.5,781.7 L319.0,781.7 L321.5,781.8 L324.0,782.2 L325.5,782.7 L326.0,782.5 L327.0,781.9 L328.5,782.2 L329.5,782.1 L330.0,782.1 L331.0,782.5 L331.5,782.5 L332.5,782.2 L334.0,782.3 L335.5,781.5 L337.0,781.7 L338.0,781.5 L338.5,781.6 L339.5,782.2 L340.0,782.2 L342.5,781.5 L344.0,781.5 L345.0,781.7 L345.5,781.6 L346.5,781.3 L348.0,781.2 L349.5,781.7 L350.5,782.1 L351.0,782.1 L352.0,781.4 L352.5,781.2 L355.0,780.9 L356.5,780.8 L358.0,781.4 L359.0,781.5 L360.5,781.2 L362.0,781.2 L364.5,781.1 L365.0,781.0 L366.0,780.6 L366.5,780.5 L367.5,780.8 L369.0,781.0 L370.5,780.7 L372.0,780.7 L373.5,780.6 L374.5,780.7 L376.0,781.2 L377.5,780.7 L379.0,780.8 L380.0,781.0 L381.5,781.0 L383.0,781.4 L384.0,780.4 L384.5,780.1 L385.5,780.8 L386.0,781.0 L387.0,780.6 L387.5,780.6 L390.0,780.9 L391.5,781.0 L393.0,780.9 L394.0,780.6 L394.5,780.7 L395.5,781.0 L396.0,780.8 L397.0,780.3 L398.5,780.2 L399.5,780.3 L400.0,780.2 L401.0,779.7 L401.5,779.8 L402.5,780.3 L403.0,780.2 L404.0,779.8 L405.5,780.0 L406.5,779.4 L407.0,779.2 L408.0,779.1 L409.0,779.2 L411.0,779.7 L412.5,779.5 L414.0,780.0 L415.0,780.1 L415.5,780.3 L416.5,780.9 L417.0,780.8 L418.0,780.4 L419.0,780.9 L419.5,781.1 L421.0,780.7 L423.5,780.7 L425.0,780.3 L426.5,780.5 L427.5,780.4 L428.0,780.3 L429.0,779.7 L429.5,779.5 L430.5,779.3 L432.0,779.2 L433.5,778.3 L436.0,777.7 L437.5,777.2 L438.0,777.5 L439.0,778.3 L440.0,777.9 L440.5,777.9 L441.5,778.9 L442.0,779.2 L443.0,779.4 L444.5,780.2 L446.0,780.2 L447.5,780.4 L448.5,780.9 L449.0,781.1 L450.0,781.2 L450.5,781.3 L453.0,782.0 L455.5,782.3 L457.0,782.2 L458.5,782.4 L460.0,781.7 L461.5,782.3 L462.5,782.0 L463.0,782.1 L464.0,782.6 L464.5,782.7 L465.5,782.7 L467.0,781.5 L468.5,782.1 L470.0,781.9 L471.0,781.6 L471.5,781.6 L472.5,782.0 L473.0,781.9 L475.5,781.0 L477.0,781.5 L479.5,781.5 L481.0,780.9 L482.5,781.5 L483.5,781.5 L484.0,781.4 L485.0,780.9 L485.5,780.8 L488.0,781.1 L489.5,781.0 L490.5,781.5 L491.0,781.6 L493.5,780.7 L494.0,780.6 L495.0,780.7 L496.0,780.8 L496.5,780.9 L497.5,781.5 L498.0,781.5 L499.0,780.9 L499.5,780.8 L502.0,780.9 L503.5,780.8 L504.5,781.3 L505.0,781.3 L506.0,780.6 L506.5,780.5 L507.5,780.8 L509.0,780.6 L510.5,780.7 L511.5,780.2 L512.0,780.2 L513.0,780.9 L513.5,780.9 L514.5,780.4 L516.0,780.3 L517.5,779.9 L519.0,780.0 L520.0,780.3 L521.5,780.4 L523.0,780.3 L524.5,780.4 L527.0,779.9 L528.5,780.1 L529.0,780.1 L530.0,779.9 L531.5,779.6 L534.0,779.9 L537.0,779.2 L539.5,779.7 L540.0,779.7 L541.0,779.0 L541.5,778.9 L544.0,778.5 L545.0,778.7 L545.5,778.6 L546.5,777.7 L547.0,777.5 L548.0,777.9 L549.5,778.1 L551.0,777.3 L552.0,777.8 L552.5,777.9 L555.0,777.0 L556.5,776.8 L558.0,775.5 L559.5,775.2 L560.5,775.3 L561.0,775.2 L562.0,774.1 L562.5,774.1 L563.5,774.6 L564.0,774.5 L565.0,774.0 L566.5,774.5 L568.0,774.3 L569.0,773.8 L569.5,773.9 L570.5,774.5 L572.0,775.0 L573.5,774.6 L574.5,774.5 L575.0,774.5 L576.0,774.8 L576.5,774.7 L579.0,773.2 L580.0,773.0 L581.5,772.7 L582.0,772.4 L583.0,771.4 L583.5,771.1 L584.5,770.9 L586.0,770.1 L587.0,769.1 L588.0,768.3 L589.0,767.8 L589.5,767.7 L590.0,767.7 L590.5,768.0 L592.0,769.7 L593.0,770.6 L594.5,770.8 L595.5,771.0 L596.0,771.1 L597.0,771.0 L597.5,771.1 L598.5,771.6 L600.0,772.0 L601.5,772.8 L604.0,773.2 L605.5,773.9 L607.0,773.9 L608.5,774.2 L609.5,774.6 L610.0,774.7 L611.0,774.2 L611.5,774.2 L612.5,774.2 L613.0,773.7 L614.5,771.6 L615.0,770.7 L616.5,767.8 L617.5,765.4 L619.5,759.1 L621.0,755.7 L622.0,752.6 L623.0,749.9 L623.5,748.9 L624.0,748.6 L624.5,749.3 L626.0,752.9 L626.5,754.1 L628.0,758.5 L629.5,761.6 L630.5,764.0 L631.0,765.3 L632.0,768.3 L632.5,769.4 L633.5,771.1 L635.5,775.5 L636.5,777.6 L637.5,778.7 L638.5,779.7 L640.0,780.9 L642.0,782.3 L643.5,782.3 L644.5,782.9 L645.0,783.1 L646.0,783.4 L647.5,784.2 L648.0,784.1 L649.0,783.5 L650.5,783.4 L651.5,783.8 L652.0,783.9 L653.0,783.6 L653.5,783.6 L654.5,783.8 L656.0,783.7 L657.5,784.1 L658.5,783.6 L659.0,783.5 L660.0,783.6 L660.5,783.5 L661.5,782.9 L662.0,783.0 L663.0,783.4 L664.0,784.0 L664.5,784.2 L665.5,783.6 L666.0,783.4 L667.0,783.4 L668.5,783.1 L670.0,783.6 L671.5,783.3 L672.5,782.9 L673.0,782.9 L674.0,783.3 L674.5,783.3 L675.5,783.1 L677.0,783.1 L678.0,782.7 L678.5,782.6 L679.5,783.2 L680.0,783.2 L681.5,782.7 L684.0,782.3 L685.5,782.4 L686.5,782.6 L687.0,782.6 L688.0,782.3 L688.5,782.3 L689.5,782.6 L691.0,782.4 L692.5,782.6 L695.0,782.1 L696.5,781.4 L697.0,781.5 L698.0,782.0 L699.5,782.1 L701.0,781.9 L702.0,782.0 L703.5,781.6 L705.0,781.5 L706.5,781.3 L707.5,781.8 L708.0,781.9 L709.0,781.6 L712.0,780.8 L713.5,781.2 L714.5,781.6 L715.0,781.6 L717.5,780.8 L718.0,780.9 L719.0,781.4 L720.5,781.3 L723.0,781.0 L724.5,781.0 L726.0,780.7 L727.5,780.7 L728.5,780.2 L729.0,780.2 L730.0,780.7 L730.5,780.7 L731.5,780.3 L733.0,780.8 L734.0,779.7 L734.5,779.4 L735.5,780.0 L736.0,780.2 L737.0,780.2 L737.5,780.0 L738.5,779.6 L740.0,779.8 L741.5,779.8 L742.5,779.6 L744.0,779.2 L744.5,779.1 L745.5,779.1 L747.0,779.4 L748.5,779.4 L750.0,778.9 L752.5,778.7 L754.0,778.8 L755.5,777.8 L756.5,777.6 L757.0,777.6 L758.0,777.8 L758.5,777.7 L759.5,777.2 L763.5,777.0 L764.0,776.8 L765.0,776.3 L765.5,776.3 L766.5,776.6 L767.0,776.3 L768.0,775.6 L769.0,776.1 L769.5,776.2 L770.5,775.6 L771.0,775.4 L772.0,775.5 L772.5,775.6 L773.5,776.1 L775.0,775.8 L776.5,775.7 L778.0,775.9 L779.0,776.2 L780.5,776.2 L782.0,776.3 L783.5,776.8 L784.5,776.5 L785.0,776.5 L787.5,777.6 L789.0,779.1 L790.5,779.9 L791.5,780.6 L792.0,780.9 L793.5,781.2 L794.5,781.7 L796.0,782.8 L797.5,783.3 L798.5,784.1 L799.5,784.7 L800.0,784.9 L800.5,785.0 L801.5,785.1 L803.0,785.7 L804.3,785.9 L805.1,786.1 L805.5,786.1 L805.7,786.1 L806.0,785.8 L806.5,784.8 L806.9,783.2 L807.1,782.0 L807.7,775.5 L808.1,768.6 L808.5,759.1 L809.1,739.8 L810.5,680.6 L810.9,666.6 L811.3,657.3 L811.5,655.0 L811.7,654.4 L811.9,655.4 L812.1,658.0 L812.5,667.5 L814.5,747.9 L815.0,762.5 L815.5,772.8 L816.1,780.5 L816.5,783.6 L817.0,785.8 L817.3,786.4 L817.7,786.7 L818.5,786.7 L819.3,787.0 L820.0,787.2 L821.0,787.3 L821.5,787.2 L822.5,786.9 L823.0,787.1 L824.0,787.6 L825.0,787.7 L825.5,787.7 L826.5,787.1 L827.0,786.9 L828.0,786.9 L828.5,787.1 L829.5,787.6 L831.0,787.5 L832.5,787.1 L834.0,787.5 L836.5,787.6 L838.0,788.0 L839.5,787.9 L840.5,788.3 L841.0,788.4 L843.5,788.1 L846.5,788.3 L848.0,788.0 L849.0,787.6 L849.5,787.6 L850.5,788.1 L852.0,787.9 L853.5,788.4 L854.5,788.0 L855.0,787.9 L856.0,788.1 L857.5,788.0 L859.0,788.5 L860.5,787.9 L862.0,787.8 L863.0,787.9 L864.5,787.7 L866.0,787.9 L867.5,787.8 L868.5,787.9 L869.0,788.0 L870.0,788.4 L870.5,788.3 L871.5,787.7 L873.0,787.8 L874.5,787.7 L875.5,787.9 L876.0,787.9 L877.0,787.4 L877.5,787.3 L881.5,787.9 L885.5,787.3 L887.0,787.8 L888.5,788.1 L890.0,787.7 L891.0,787.6 L892.5,787.7 L894.0,787.2 L895.5,787.4 L896.5,787.4 L898.5,787.6 L899.5,787.5 L901.0,787.0 L902.5,787.8 L903.5,788.0 L904.0,787.9 L905.0,787.4 L905.5,787.4 L906.5,787.5 L908.0,787.5 L909.5,787.6 L910.5,787.0 L911.0,787.0 L912.0,787.7 L912.5,787.7 L913.5,787.2 L914.0,787.3 L915.0,787.7 L916.5,787.3 L918.0,787.1 L919.0,787.2 L920.5,787.5 L922.0,786.9 L923.5,787.1 L924.5,787.0 L925.0,786.9 L926.0,786.6 L926.5,786.8 L927.5,787.5 L928.0,787.5 L930.5,787.1 L931.5,787.4 L932.0,787.4 L933.0,786.8 L933.5,786.8 L934.5,787.0 L936.0,787.6 L937.5,787.3 L938.5,786.4 L939.0,786.1 L940.0,785.8 L940.5,785.9 L943.0,787.3 L944.5,786.7 L946.0,786.8 L947.0,787.0 L947.5,786.9 L948.5,786.5 L950.0,786.8 L951.5,787.0 L954.0,786.8 L955.5,786.4 L957.0,786.7 L958.5,786.3 L960.0,786.9 L961.0,787.2 L961.5,787.0 L962.5,786.1 L964.0,785.4 L965.5,786.0 L968.5,786.4 L969.5,786.3 L971.0,785.6 L972.5,785.6 L973.5,786.1 L974.0,786.1 L975.0,785.5 L975.5,785.5 L976.5,786.1 L977.0,786.0 L978.0,785.6 L979.5,786.0 L981.5,786.0 L983.5,786.2 L985.0,785.7 L986.5,786.5 L987.5,786.6 L988.5,786.9 L989.5,787.3 L990.5,787.8 L992.0,787.7 L993.5,788.0 L996.0,788.9 L997.5,789.7 L999.0,789.5 L1000.5,790.5 L1003.0,790.5 L1004.5,790.3 L1006.0,790.9 L1007.4,791.0 L1008.2,790.2 L1008.8,789.2 L1009.2,788.9 L1009.6,788.1 L1010.0,787.0 L1010.4,785.4 L1010.8,783.1 L1012.4,773.1 L1012.8,771.6 L1013.0,771.2 L1013.2,771.1 L1013.4,771.3 L1013.6,771.7 L1014.0,773.2 L1014.4,775.4 L1015.8,785.3 L1016.4,788.1 L1016.8,789.4 L1017.2,790.3 L1017.5,790.7 L1017.8,790.9 L1018.2,791.1 L1018.6,791.1 L1019.2,791.3 L1020.0,791.6 L1022.5,791.5 L1023.0,791.4 L1024.0,790.8 L1024.5,791.0 L1025.5,791.7 L1026.0,791.6 L1027.0,791.3 L1028.5,791.5 L1030.0,791.4 L1031.0,791.6 L1031.5,791.5 L1032.5,791.2 L1034.0,790.9 L1035.5,791.4 L1036.5,791.5 L1037.0,791.5 L1038.0,791.0 L1038.5,791.0 L1039.5,791.4 L1042.0,790.8 L1042.5,790.7 L1043.5,791.2 L1044.0,791.2 L1045.0,790.6 L1045.5,790.6 L1046.5,791.0 L1047.0,790.9 L1048.0,790.5 L1049.5,790.7 L1050.5,790.3 L1051.0,790.2 L1052.0,790.2 L1053.5,790.8 L1055.0,790.6 L1057.5,790.4 L1058.0,790.4 L1059.0,790.6 L1059.5,790.5 L1060.5,790.1 L1061.0,790.0 L1062.0,790.1 L1063.5,790.4 L1065.0,790.2 L1066.0,790.3 L1067.5,790.5 L1070.5,790.5 L1071.5,791.0 L1072.0,791.1 L1073.0,790.9 L1074.5,791.0 L1076.0,790.5 L1077.5,790.4 L1078.5,790.1 L1079.0,790.1 L1080.0,790.4 L1080.5,790.3 L1081.5,789.9 L1082.0,790.0 L1084.5,790.9 L1085.5,791.1 L1086.0,791.1 L1087.0,791.0 L1088.5,790.4 L1089.0,790.5 L1090.0,790.8 L1091.5,790.4 L1092.5,790.8 L1093.0,790.9 L1094.0,790.7 L1094.5,790.7 L1095.5,790.9 L1097.0,791.6 L1098.5,791.0 L1099.5,791.4 L1100.0,791.4 L1101.0,790.9 L1101.5,790.7 L1102.5,790.6 L1104.0,791.2 L1105.5,791.3 L1106.5,790.7 L1107.0,790.6 L1108.0,790.8 L1108.5,790.7 L1109.5,790.3 L1112.5,791.1 L1114.0,790.8 L1116.5,790.4 L1118.0,791.0 L1119.5,791.1 L1122.0,791.0 L1123.5,790.5 L1124.0,790.7 L1125.0,791.5 L1126.5,790.9 L1128.0,790.9 L1129.0,791.1 L1129.5,791.0 L1130.5,790.2 L1131.0,790.4 L1132.0,790.9 L1133.5,790.9 L1135.0,791.1 L1136.0,791.4 L1136.5,791.4 L1137.5,791.2 L1139.0,790.3 L1140.5,790.9 L1142.0,791.1 L1143.0,791.1 L1144.5,790.6 L1146.0,790.4 L1147.5,791.2 L1150.0,791.1 L1151.5,790.5 L1152.0,790.8 L1153.0,791.7 L1154.0,790.5 L1154.5,790.1 L1157.0,791.7 L1157.5,791.6 L1158.5,791.1 L1160.0,791.2 L1161.0,790.8 L1161.5,790.7 L1162.5,791.4 L1163.0,791.4 L1164.0,790.8 L1164.5,790.8 L1165.5,791.1 L1166.0,791.2 L1167.0,791.1 L1168.0,790.9 L1168.5,790.8 L1169.5,791.3 L1170.0,791.3 L1171.0,790.7 L1171.5,790.7 L1174.0,791.1 L1175.5,791.0 L1177.0,791.3 L1178.0,791.4 L1178.5,791.3 L1179.5,791.0 L1181.0,790.9 L1183.5,791.0 L1185.0,791.3 L1185.5,791.3 L1186.5,791.0 L1188.0,791.2 L1190.5,790.9 L1191.0,790.9 L1192.0,791.3 L1192.5,791.3 L1193.5,790.8 L1194.0,790.8 L1195.0,791.1 L1196.0,791.5 L1196.5,791.6 L1197.5,790.9 L1198.0,790.8 L1199.0,791.0 L1199.5,791.0 L1200.5,790.6 L1202.0,790.9 L1203.5,790.6 L1205.0,791.0 L1206.5,791.0 L1207.5,791.1 L1209.0,791.7 L1210.5,791.2 L1212.0,791.3 L1213.0,791.1 L1215.0,790.9 L1217.5,790.4 L1220.0,791.4 L1220.5,791.4 L1223.0,790.7 L1224.0,791.2 L1224.5,791.3 L1225.5,790.8 L1226.0,790.6 L1227.0,790.5 L1228.5,790.3 L1230.0,790.3 L1231.0,790.4 L1231.5,790.6 L1232.5,791.1 L1233.0,791.1 L1234.0,790.5 L1235.5,790.1 L1238.5,790.3 L1239.5,789.9 L1240.0,789.8 L1241.0,790.3 L1242.5,790.5 L1244.0,790.4 L1245.5,790.4 L1247.0,789.8 L1248.0,789.6 L1248.5,789.8 L1249.5,790.6 L1250.0,790.6 L1251.0,790.6 L1252.0,789.9 L1252.5,789.7 L1253.5,790.1 L1254.0,790.3 L1255.0,790.2 L1256.5,790.4 L1258.0,790.3 L1259.5,790.1 L1261.0,790.3 L1262.5,790.3 L1263.5,790.2 L1265.0,789.6 L1266.0,789.3 L1266.5,789.3 L1267.5,789.9 L1268.0,790.0 L1269.0,789.8 L1269.5,789.9 L1270.5,790.4 L1272.0,790.6 L1275.0,790.3 L1276.0,790.4 L1277.5,790.8 L1279.0,790.2 L1280.5,790.8 L1283.0,790.7 L1283.5,790.8 L1284.5,791.1 L1285.0,790.9 L1286.0,790.4 L1287.0,790.9 L1287.5,791.0 L1288.5,790.6 L1289.0,790.4 L1290.0,790.5 L1291.5,790.5 L1293.0,791.1 L1294.5,790.6 L1295.5,790.9 L1296.0,791.0 L1297.0,790.7 L1297.5,790.8 L1298.5,791.4 L1300.0,791.8 L1301.5,791.4 L1302.5,791.8 L1303.0,791.8 L1304.0,791.6 L1304.5,791.7 L1305.5,792.2 L1307.0,791.8 L1308.0,791.7 L1308.5,791.8 L1309.5,793.0 L1310.0,793.3 L1311.0,793.4 L1312.5,793.6 L1314.0,794.3 L1315.5,794.5 L1316.5,795.1 L1317.0,795.3 L1318.0,795.2 L1319.0,795.5 L1319.5,795.5 L1320.0,795.0 L1321.0,793.5 L1323.0,789.5 L1324.5,786.0 L1325.0,785.1 L1325.5,784.5 L1326.0,784.2 L1326.5,784.2 L1327.0,784.7 L1328.0,785.9 L1328.8,786.4 L1329.4,786.7 L1330.0,786.6 L1330.5,786.4 L1331.0,786.0 L1331.4,785.5 L1332.0,784.2 L1332.6,782.2 L1334.2,774.8 L1334.5,774.0 L1334.8,773.7 L1335.0,773.8 L1335.2,774.2 L1335.4,774.8 L1335.8,776.9 L1337.4,791.2 L1338.0,794.9 L1338.4,796.5 L1338.8,797.5 L1339.2,798.2 L1339.6,798.4 L1340.0,798.5 L1340.6,798.4 L1342.0,798.9 L1343.2,798.5 L1343.5,798.5 L1344.5,799.0 L1345.0,799.0 L1346.0,798.5 L1346.5,798.5 L1347.5,798.6 L1349.0,799.0 L1350.5,799.2 L1351.5,798.7 L1352.0,798.6 L1353.5,799.0 L1355.0,799.2 L1356.0,799.2 L1357.5,798.9 L1359.0,799.2 L1360.0,799.1 L1360.5,799.2 L1361.5,799.6 L1363.0,799.4 L1364.5,798.7 L1365.5,798.5 L1366.0,798.5 L1367.0,799.1 L1368.5,799.6 L1370.0,799.3 L1371.5,799.5 L1373.0,799.0 L1374.0,798.8 L1374.5,798.9 L1375.5,799.4 L1377.0,799.2 L1378.5,799.4 L1379.5,798.9 L1380.0,798.8 L1381.0,799.2 L1381.5,799.2 L1382.5,799.0 L1384.0,799.5 L1385.5,799.0 L1388.0,799.0 L1388.5,799.1 L1389.5,799.6 L1391.0,799.2 L1392.5,798.9 L1395.0,798.8 L1395.5,799.0 L1396.5,799.6 L1397.0,799.3 L1398.0,798.5 L1399.5,798.9 L1401.0,799.4 L1402.0,799.5 L1402.5,799.4 L1403.5,799.1 L1405.0,799.4 L1407.5,799.4 L1408.0,799.4 L1409.0,799.1 L1409.5,799.2 L1410.5,799.6 L1412.0,799.1 L1413.0,799.4 L1413.5,799.5 L1414.5,798.8 L1415.0,798.7 L1416.0,799.2 L1416.5,799.1 L1417.5,798.6 L1419.0,798.4 L1420.0,798.9 L1420.5,799.1 L1421.5,798.7 L1422.0,798.7 L1423.0,799.0 L1423.5,798.9 L1424.5,798.5 L1425.0,798.8 L1426.0,799.4 L1427.5,798.8 L1428.5,798.5 L1429.0,798.5 L1430.0,798.8 L1431.5,799.0 L1433.0,798.5 L1435.5,799.3 L1436.0,799.3 L1438.5,798.6 L1440.0,798.4 L1441.0,798.6 L1441.5,798.7 L1443.0,797.9 L1444.0,797.5 L1444.5,797.6 L1445.5,798.1 L1446.0,798.1" stroke="#ff7f00"/>
<path d="M152.0,624.0 L153.5,624.2 L154.5,624.6 L155.0,624.7 L156.0,624.5 L157.5,623.7 L158.0,623.8 L159.0,624.2 L160.5,624.0 L161.5,624.2 L162.0,624.1 L163.0,623.7 L163.5,623.7 L164.5,624.2 L166.0,624.2 L167.5,624.6 L169.0,624.2 L170.0,624.3 L170.5,624.1 L171.5,623.6 L172.0,624.0 L173.0,624.9 L174.0,623.8 L174.5,623.5 L175.5,624.2 L176.0,624.4 L177.0,624.0 L178.5,623.8 L181.5,623.8 L182.5,624.1 L183.0,624.1 L184.0,624.0 L184.5,624.1 L185.5,624.5 L186.0,624.2 L187.0,623.4 L188.5,624.0 L189.5,623.7 L190.0,623.8 L191.0,624.2 L191.5,624.0 L192.5,623.3 L193.0,623.4 L194.0,623.8 L195.0,624.0 L195.5,624.0 L196.5,623.5 L197.0,623.5 L198.0,624.2 L198.5,624.2 L199.5,624.0 L201.0,624.3 L202.5,624.2 L203.5,623.7 L204.0,623.6 L205.0,623.6 L206.5,623.8 L208.0,624.1 L209.0,624.1 L209.5,624.1 L210.5,623.7 L211.0,623.6 L213.5,623.5 L217.5,623.7 L218.0,623.8 L219.0,624.4 L219.5,624.3 L220.5,623.6 L222.0,623.6 L223.5,623.8 L224.5,623.5 L225.0,623.4 L227.5,623.7 L229.0,623.9 L230.0,623.4 L230.5,623.3 L231.5,623.9 L232.0,624.0 L233.0,623.6 L233.5,623.5 L236.0,623.9 L237.5,623.8 L238.5,623.9 L239.0,623.9 L240.5,623.6 L241.5,623.5 L243.0,623.6 L244.0,623.3 L244.5,623.2 L245.5,623.7 L246.0,623.8 L247.0,623.3 L248.5,623.0 L249.0,623.3 L250.0,624.1 L251.5,623.3 L252.5,623.0 L253.0,623.1 L254.0,623.9 L254.5,623.8 L255.5,623.3 L256.0,623.4 L257.0,623.7 L258.5,623.0 L259.5,623.2 L260.0,623.1 L261.0,622.8 L262.5,622.6 L266.5,623.4 L268.0,624.0 L268.5,623.8 L269.5,622.9 L270.0,623.0 L271.0,623.5 L272.5,623.0 L273.5,623.1 L274.0,623.0 L275.0,622.7 L275.5,622.6 L276.5,622.6 L278.0,622.8 L279.5,622.7 L280.5,623.0 L281.0,623.1 L282.0,622.9 L282.5,623.0 L283.5,623.5 L285.0,623.1 L286.5,623.1 L287.5,623.4 L288.0,623.4 L290.5,623.1 L292.0,623.0 L293.5,623.0 L295.0,623.4 L297.5,623.2 L299.0,623.3 L300.5,622.9 L301.5,623.1 L302.0,623.1 L303.0,622.6 L303.5,622.7 L304.5,623.4 L305.0,623.3 L306.0,623.0 L309.0,623.1 L311.5,622.9 L313.0,623.3 L313.5,623.2 L314.0,622.8 L314.5,621.5 L315.0,620.7 L315.5,621.2 L316.0,622.3 L316.5,622.7 L317.0,622.9 L317.5,622.8 L318.5,622.3 L319.0,622.5 L320.0,623.4 L321.5,622.7 L322.5,622.8 L323.0,622.9 L324.0,623.5 L324.5,623.6 L325.5,623.5 L327.0,622.8 L331.0,623.3 L331.5,623.2 L332.5,622.8 L334.0,622.8 L335.5,623.2 L337.0,622.9 L338.0,623.0 L339.5,623.0 L341.0,622.3 L342.5,622.4 L343.5,621.9 L344.0,621.9 L345.0,622.5 L346.5,623.1 L347.0,622.9 L348.0,622.3 L349.5,623.0 L351.0,622.9 L352.0,622.6 L352.5,622.5 L355.0,622.5 L356.5,622.1 L360.5,622.4 L362.0,622.4 L363.5,621.9 L364.5,622.2 L365.0,622.2 L366.0,621.8 L366.5,621.8 L369.0,622.1 L371.5,621.9 L373.0,622.0 L374.5,621.7 L376.0,621.6 L377.5,621.8 L378.5,622.1 L379.0,622.1 L380.0,621.8 L380.5,621.9 L381.5,622.4 L382.0,622.3 L383.0,621.8 L384.0,621.0 L384.5,620.8 L387.0,622.2 L387.5,622.1 L388.5,621.7 L391.0,621.4 L391.5,621.4 L392.5,621.9 L393.0,622.0 L397.0,621.5 L398.5,621.6 L400.0,621.1 L401.0,620.4 L401.5,620.3 L402.5,620.7 L404.0,620.3 L405.5,620.0 L407.0,620.1 L408.0,619.9 L408.5,619.7 L409.5,619.0 L410.0,619.4 L411.0,620.6 L412.5,620.5 L414.0,620.3 L415.0,620.4 L416.5,620.7 L418.0,620.4 L419.5,621.1 L422.0,621.2 L424.0,621.1 L425.0,621.2 L426.0,621.5 L426.5,621.6 L427.5,621.5 L428.0,621.3 L430.5,619.9 L432.0,619.0 L433.5,619.0 L434.5,618.8 L435.0,618.6 L436.0,617.5 L436.5,617.5 L437.5,618.1 L439.0,617.1 L441.5,619.1 L442.0,619.3 L443.0,619.5 L444.5,620.2 L446.0,621.5 L447.0,622.2 L447.5,622.5 L448.5,622.7 L449.0,623.0 L450.0,623.9 L450.5,624.0 L451.5,623.8 L453.0,624.8 L454.5,624.2 L457.0,624.4 L458.5,624.2 L460.0,624.7 L461.0,624.8 L461.5,624.8 L463.0,624.1 L465.5,623.5 L467.0,623.5 L468.5,623.7 L472.5,623.5 L474.0,623.6 L475.5,622.9 L476.5,622.9 L477.0,623.0 L478.0,623.5 L478.5,623.5 L479.5,623.4 L481.0,622.9 L482.0,623.3 L482.5,623.4 L483.5,622.9 L484.0,622.7 L485.0,622.8 L485.5,622.6 L486.5,622.2 L487.0,622.4 L488.0,623.0 L489.5,622.7 L491.0,623.0 L494.0,622.5 L495.0,622.5 L496.5,622.7 L498.0,622.2 L499.0,622.2 L500.5,622.2 L502.0,622.4 L503.5,622.4 L504.5,622.6 L505.0,622.5 L506.0,622.0 L506.5,621.9 L507.5,622.2 L509.0,621.5 L510.5,621.9 L511.5,621.7 L512.0,621.7 L513.0,622.1 L513.5,622.0 L516.0,621.2 L517.5,621.5 L519.0,621.3 L520.0,621.1 L521.5,621.0 L523.0,620.7 L524.0,621.5 L524.5,621.8 L525.5,621.1 L526.0,620.9 L527.0,621.1 L527.5,620.9 L528.5,620.3 L529.0,620.3 L530.0,620.2 L531.5,620.5 L533.0,620.4 L534.0,620.6 L534.5,620.5 L535.5,619.9 L536.0,620.0 L537.0,620.3 L538.0,620.5 L538.5,620.5 L539.5,619.8 L540.0,619.7 L541.0,620.1 L541.5,620.0 L542.5,619.4 L543.0,619.5 L544.0,619.7 L545.5,619.6 L546.5,619.9 L547.0,619.8 L548.0,619.1 L548.5,618.9 L551.0,619.0 L552.5,617.8 L553.5,617.8 L554.0,617.7 L555.5,617.1 L556.5,616.9 L558.0,617.0 L559.5,616.7 L560.5,617.0 L561.0,616.9 L562.0,616.5 L562.5,616.4 L563.5,616.3 L565.0,615.8 L566.5,615.9 L567.5,616.1 L568.0,616.1 L569.0,615.6 L569.5,615.8 L570.5,616.9 L571.0,616.9 L572.0,616.4 L573.5,616.4 L575.0,616.6 L576.0,616.9 L577.5,617.0 L579.0,616.2 L580.0,616.2 L580.5,616.0 L581.5,615.1 L583.0,613.2 L583.5,612.8 L584.5,612.4 L585.0,612.0 L586.0,611.2 L587.0,610.2 L587.5,609.8 L588.5,610.1 L589.0,610.1 L590.0,609.6 L590.5,609.8 L591.5,610.8 L592.0,611.0 L593.0,611.2 L595.5,612.4 L597.0,613.3 L597.5,613.3 L598.5,612.9 L599.0,613.0 L600.0,613.4 L601.5,614.2 L602.5,614.0 L603.0,614.1 L605.5,615.8 L606.0,615.9 L607.0,615.9 L608.0,616.3 L608.5,616.4 L610.0,615.6 L611.0,615.3 L614.0,612.8 L615.0,612.7 L615.5,612.4 L616.0,611.7 L616.5,610.8 L617.5,608.1 L619.0,602.8 L620.5,597.0 L621.5,595.0 L622.5,593.4 L623.0,592.8 L623.5,592.4 L624.0,592.3 L624.5,592.7 L625.5,594.7 L626.5,597.0 L629.5,604.9 L633.5,612.7 L635.0,614.8 L636.5,617.3 L637.0,618.0 L639.0,620.7 L639.5,621.2 L640.5,621.9 L641.0,622.0 L642.0,622.2 L643.0,622.8 L643.5,623.0 L644.5,622.8 L645.0,622.8 L646.0,623.5 L646.5,623.6 L647.5,623.6 L649.0,623.5 L650.5,623.4 L651.5,623.2 L652.0,623.2 L653.0,623.9 L653.5,624.0 L654.5,623.8 L656.0,623.8 L657.5,624.2 L659.0,623.8 L661.5,623.9 L663.0,623.6 L664.0,624.6 L664.5,624.8 L665.5,624.1 L666.0,623.9 L667.0,623.8 L668.5,624.0 L669.0,623.6 L670.0,622.5 L671.5,623.4 L673.0,623.2 L674.0,622.8 L674.5,622.8 L675.5,623.1 L676.0,622.8 L677.0,622.1 L678.5,622.8 L679.5,622.9 L680.0,622.8 L681.0,622.1 L681.5,622.0 L682.5,622.1 L684.0,622.6 L685.5,622.6 L686.5,622.5 L687.0,622.5 L688.0,622.7 L688.5,622.7 L689.5,622.7 L691.0,622.1 L692.5,622.5 L695.0,621.9 L696.5,621.8 L698.0,622.9 L699.0,622.7 L699.5,622.6 L700.5,623.1 L701.0,623.1 L702.0,622.2 L702.5,622.1 L703.5,622.4 L705.0,622.7 L706.5,622.5 L708.0,622.7 L709.0,622.6 L710.5,622.3 L712.0,621.7 L713.5,622.2 L714.5,622.8 L715.0,623.0 L716.0,622.7 L716.5,622.7 L717.5,622.8 L719.0,622.1 L720.5,622.1 L721.5,621.9 L722.0,621.9 L723.0,622.2 L723.5,622.2 L724.5,622.0 L726.0,622.1 L727.0,622.3 L727.5,622.4 L728.5,621.7 L729.0,621.5 L730.0,621.8 L730.5,621.7 L731.5,621.1 L732.0,621.3 L733.0,621.8 L734.5,621.2 L737.0,621.2 L738.5,621.6 L740.0,620.9 L742.5,620.3 L743.0,620.3 L744.0,620.6 L744.5,620.6 L745.5,620.2 L746.0,620.2 L749.5,620.3 L750.0,620.2 L751.0,619.8 L751.5,619.8 L752.5,620.1 L754.0,620.3 L755.0,619.3 L755.5,619.0 L756.5,619.6 L757.0,619.7 L758.0,619.8 L758.5,619.5 L759.5,618.7 L760.0,618.6 L761.0,618.8 L762.0,618.1 L762.5,617.8 L763.5,618.1 L764.0,618.1 L765.0,617.8 L766.5,617.7 L768.0,617.1 L772.5,616.9 L773.5,616.9 L775.0,617.1 L776.5,616.9 L779.0,617.5 L779.5,617.4 L780.5,616.8 L781.0,617.0 L782.0,617.7 L783.5,617.5 L785.0,617.6 L786.0,617.8 L789.0,618.8 L790.5,619.6 L791.5,619.5 L792.0,619.7 L793.0,620.6 L793.5,620.7 L794.5,620.6 L795.0,620.9 L796.0,621.7 L797.5,622.4 L798.5,622.3 L799.0,622.5 L800.0,623.5 L801.5,624.5 L802.0,624.5 L803.0,624.1 L804.3,624.6 L804.7,624.6 L805.5,624.3 L806.0,623.8 L806.3,623.3 L806.7,622.1 L807.0,620.7 L807.3,618.6 L807.7,614.4 L808.0,610.0 L808.5,599.6 L809.0,585.1 L810.5,527.2 L810.9,514.6 L811.3,506.4 L811.5,504.3 L811.7,503.6 L811.9,504.5 L812.1,506.9 L812.5,515.6 L813.0,532.3 L814.3,583.4 L814.9,601.6 L815.3,610.4 L815.9,618.9 L816.5,623.4 L816.9,625.0 L817.3,625.9 L817.7,626.3 L818.3,626.6 L818.7,626.6 L819.5,626.3 L820.0,626.4 L821.0,627.0 L821.5,627.1 L822.5,627.0 L824.0,625.8 L827.0,626.5 L828.0,626.9 L829.5,627.1 L831.0,626.6 L833.5,627.0 L834.0,627.0 L835.0,626.5 L835.5,626.6 L836.5,627.1 L838.0,626.8 L839.5,627.1 L840.5,627.0 L842.0,626.7 L842.5,626.7 L843.5,626.8 L845.0,627.2 L848.0,627.2 L849.0,627.5 L849.5,627.5 L850.5,627.1 L852.0,626.8 L853.5,627.1 L856.0,627.1 L857.5,627.6 L859.0,627.4 L860.5,627.5 L863.0,627.1 L863.5,627.2 L864.5,627.5 L866.0,627.1 L867.5,627.2 L868.5,626.9 L869.0,626.8 L870.0,627.1 L870.5,627.1 L871.5,627.0 L872.0,627.1 L873.0,627.2 L874.5,627.7 L875.5,627.9 L876.0,627.8 L878.5,627.1 L880.0,627.3 L882.5,626.9 L883.0,626.8 L884.5,627.0 L887.0,626.8 L888.0,627.3 L888.5,627.4 L889.5,626.9 L890.0,626.8 L891.0,626.8 L892.5,627.1 L894.0,626.7 L895.5,626.5 L897.0,626.7 L898.0,627.0 L898.5,627.0 L901.0,626.9 L903.5,626.5 L904.0,626.6 L905.0,627.0 L905.5,626.9 L906.5,626.3 L907.0,626.4 L908.0,626.7 L909.5,626.3 L911.0,626.6 L912.0,626.6 L913.5,627.1 L914.0,626.7 L915.0,625.7 L916.0,626.7 L916.5,627.1 L917.5,626.5 L918.0,626.4 L919.0,626.6 L920.5,626.8 L922.0,626.3 L924.5,626.6 L925.0,626.6 L927.5,626.2 L929.0,626.4 L930.0,626.4 L930.5,626.3 L931.5,625.9 L932.0,625.9 L933.0,626.6 L933.5,626.7 L934.5,626.4 L936.0,625.4 L937.5,625.9 L938.5,626.6 L939.0,626.7 L940.0,626.7 L940.5,626.6 L941.5,626.2 L943.0,625.5 L945.5,626.3 L946.0,626.3 L948.5,625.8 L950.0,625.7 L951.5,626.2 L952.5,625.9 L953.0,625.8 L955.5,626.0 L957.0,626.4 L958.5,625.9 L959.5,625.9 L960.0,625.8 L961.0,625.2 L961.5,625.3 L962.5,626.1 L963.0,626.1 L964.0,626.0 L965.5,625.7 L966.5,625.1 L967.0,625.0 L968.0,625.4 L969.5,625.7 L971.0,626.4 L972.5,625.9 L975.0,626.0 L976.5,626.2 L978.0,625.3 L979.5,625.4 L981.0,625.3 L982.0,625.6 L983.5,625.6 L985.0,625.7 L986.5,625.4 L987.5,625.7 L988.0,625.7 L989.0,625.6 L989.5,625.8 L990.5,626.8 L991.0,626.7 L992.0,626.3 L993.5,627.8 L994.5,627.9 L995.0,627.9 L996.0,627.5 L996.5,627.7 L997.5,628.6 L999.0,629.1 L1000.0,628.8 L1000.5,628.8 L1001.5,629.6 L1002.0,629.9 L1003.0,629.9 L1004.5,630.1 L1006.0,629.8 L1007.4,629.9 L1007.8,629.9 L1008.2,629.7 L1008.8,629.1 L1009.4,627.7 L1009.8,626.2 L1010.6,621.8 L1012.2,610.0 L1012.5,608.4 L1012.8,607.4 L1013.0,607.0 L1013.2,606.9 L1013.4,607.1 L1013.6,607.5 L1014.2,610.3 L1015.6,621.4 L1016.2,625.1 L1016.6,626.7 L1017.6,629.4 L1018.0,630.4 L1018.6,631.4 L1019.2,631.3 L1020.0,631.1 L1022.5,631.4 L1023.0,631.3 L1024.0,630.8 L1024.5,630.9 L1025.5,631.8 L1026.0,631.6 L1027.0,630.7 L1028.5,631.3 L1030.0,631.3 L1031.0,631.5 L1031.5,631.5 L1034.0,630.6 L1035.0,631.0 L1035.5,631.1 L1036.5,630.4 L1037.0,630.3 L1038.0,630.9 L1038.5,631.0 L1039.5,630.9 L1041.0,631.6 L1042.5,631.0 L1046.5,630.8 L1048.0,630.9 L1049.5,631.2 L1050.5,630.8 L1051.0,630.7 L1052.0,631.0 L1052.5,630.9 L1053.5,630.6 L1055.0,631.0 L1056.0,631.1 L1056.5,631.1 L1057.5,630.7 L1058.0,630.7 L1062.0,631.3 L1063.5,631.4 L1066.0,630.7 L1067.5,630.5 L1069.0,631.3 L1070.5,631.5 L1071.5,631.2 L1072.0,631.2 L1073.0,631.5 L1073.5,631.4 L1074.5,630.9 L1075.0,630.9 L1076.0,630.9 L1077.0,631.4 L1077.5,631.5 L1078.5,630.9 L1079.0,630.8 L1080.0,631.2 L1080.5,631.2 L1083.0,631.1 L1084.0,631.5 L1084.5,631.6 L1085.5,630.9 L1086.0,630.7 L1087.0,630.8 L1087.5,630.7 L1088.5,630.3 L1090.0,630.6 L1091.5,630.8 L1094.0,630.9 L1095.5,631.1 L1098.5,630.3 L1099.5,630.9 L1100.0,631.0 L1101.0,631.1 L1101.5,631.0 L1102.5,630.6 L1104.0,630.7 L1105.5,631.6 L1106.5,631.4 L1108.5,631.3 L1112.5,630.8 L1113.5,631.0 L1114.0,631.1 L1115.0,630.9 L1116.5,630.8 L1118.0,630.9 L1119.5,630.9 L1120.5,631.1 L1121.0,631.1 L1122.0,630.7 L1122.5,630.8 L1123.5,631.7 L1124.0,631.4 L1125.0,630.5 L1126.5,630.8 L1127.5,631.1 L1128.0,631.1 L1129.0,630.7 L1129.5,630.6 L1132.0,630.9 L1133.0,630.1 L1133.5,629.9 L1134.5,630.5 L1135.0,630.6 L1136.0,630.5 L1136.5,630.6 L1139.0,631.0 L1140.5,631.1 L1142.0,631.3 L1144.5,631.2 L1146.0,630.8 L1147.0,631.1 L1147.5,631.1 L1148.5,630.6 L1149.0,630.5 L1150.0,630.7 L1151.5,631.2 L1152.0,631.2 L1153.0,631.1 L1154.5,630.3 L1156.0,630.6 L1157.0,631.0 L1157.5,631.1 L1158.5,631.0 L1160.0,631.1 L1161.5,630.1 L1163.0,630.3 L1164.0,630.6 L1164.5,630.6 L1165.5,630.4 L1167.0,630.7 L1170.0,630.8 L1171.0,630.7 L1172.5,630.9 L1174.0,631.0 L1175.5,630.7 L1176.5,630.3 L1177.0,630.4 L1178.0,631.0 L1178.5,631.0 L1179.5,630.7 L1181.0,630.8 L1182.5,630.6 L1183.5,630.2 L1184.0,630.1 L1185.0,630.7 L1185.5,630.7 L1186.5,630.4 L1188.0,630.1 L1189.0,630.7 L1189.5,630.9 L1190.5,630.5 L1191.0,630.4 L1195.0,631.0 L1196.0,630.2 L1196.5,629.8 L1199.0,630.6 L1199.5,630.5 L1200.5,630.2 L1202.0,629.2 L1203.5,630.4 L1205.0,630.5 L1206.0,630.6 L1206.5,630.6 L1209.0,630.2 L1210.5,630.4 L1213.0,630.2 L1214.5,630.4 L1216.0,630.4 L1217.0,630.1 L1217.5,630.0 L1218.5,630.5 L1219.0,630.7 L1221.5,630.6 L1223.0,629.3 L1224.5,630.3 L1226.0,630.2 L1227.0,630.0 L1227.5,630.1 L1228.5,630.5 L1229.0,630.3 L1230.0,629.8 L1231.0,630.5 L1231.5,630.7 L1234.0,630.2 L1234.5,630.3 L1235.5,630.8 L1237.0,630.5 L1238.5,630.4 L1239.5,630.0 L1240.0,629.9 L1241.5,630.6 L1242.5,630.8 L1243.0,630.8 L1244.0,630.7 L1245.0,630.1 L1245.5,629.9 L1246.5,630.6 L1247.0,630.8 L1248.0,630.9 L1249.5,630.6 L1252.5,629.8 L1255.0,630.1 L1256.5,630.4 L1258.0,630.5 L1259.5,630.0 L1260.5,629.8 L1261.0,629.8 L1262.0,630.1 L1262.5,630.1 L1263.5,629.9 L1264.0,630.1 L1265.0,630.8 L1266.0,630.1 L1266.5,629.9 L1268.0,630.5 L1269.0,630.6 L1269.5,630.4 L1270.5,630.0 L1271.0,630.1 L1272.0,630.6 L1273.5,630.2 L1275.0,630.0 L1276.0,630.0 L1279.0,630.7 L1280.0,629.9 L1280.5,629.7 L1281.5,630.3 L1282.0,630.5 L1284.5,630.0 L1286.0,630.2 L1289.0,630.3 L1290.0,630.5 L1290.5,630.4 L1291.5,630.0 L1292.0,630.3 L1293.0,631.0 L1294.5,630.6 L1297.0,629.7 L1297.5,629.7 L1298.5,630.2 L1300.0,630.1 L1301.5,630.5 L1303.0,630.6 L1304.0,631.0 L1304.5,631.0 L1305.5,630.7 L1306.0,630.9 L1307.0,631.4 L1308.5,631.4 L1309.5,631.7 L1310.0,632.0 L1311.0,632.8 L1311.5,633.0 L1312.5,633.0 L1315.5,634.1 L1317.0,634.8 L1318.0,635.1 L1318.5,635.1 L1319.5,634.9 L1320.0,634.5 L1321.0,632.7 L1322.0,631.1 L1322.5,630.2 L1324.0,625.5 L1324.5,624.6 L1325.0,624.3 L1328.0,624.9 L1329.4,624.1 L1330.0,624.7 L1330.5,625.0 L1330.8,625.1 L1331.0,624.9 L1331.5,624.1 L1332.0,622.8 L1332.8,620.2 L1334.0,615.3 L1334.4,614.3 L1334.6,614.2 L1334.8,614.3 L1335.2,615.0 L1335.6,616.6 L1336.2,620.8 L1337.4,631.2 L1338.0,634.3 L1338.5,635.7 L1339.0,636.6 L1339.6,637.2 L1340.6,637.6 L1342.0,637.1 L1343.5,637.3 L1344.5,637.7 L1345.0,637.7 L1346.0,637.3 L1346.5,637.3 L1349.0,638.0 L1350.5,637.6 L1351.5,637.9 L1352.0,637.9 L1353.0,637.7 L1354.5,637.2 L1356.0,637.6 L1357.5,637.7 L1359.0,637.7 L1361.5,637.9 L1364.5,637.8 L1366.0,637.6 L1367.5,637.7 L1370.0,637.6 L1371.0,638.1 L1371.5,638.2 L1372.5,637.3 L1373.0,637.2 L1374.0,637.7 L1374.5,637.7 L1375.5,637.2 L1377.0,637.5 L1378.5,638.0 L1379.5,637.7 L1380.0,637.7 L1381.0,638.2 L1381.5,638.1 L1382.5,637.5 L1383.0,637.5 L1384.0,637.6 L1385.5,637.5 L1387.0,637.7 L1389.5,637.6 L1391.0,637.8 L1392.5,638.1 L1394.0,637.8 L1396.5,637.6 L1399.5,637.2 L1401.0,637.4 L1402.0,637.6 L1402.5,637.6 L1403.5,637.1 L1404.0,637.3 L1405.0,637.9 L1406.5,637.5 L1408.0,637.4 L1409.0,637.4 L1410.5,637.9 L1413.5,637.8 L1415.0,638.3 L1416.0,638.4 L1416.5,638.2 L1417.5,637.3 L1418.0,637.4 L1419.0,637.9 L1420.5,637.3 L1422.0,637.2 L1423.0,637.4 L1424.5,637.9 L1426.0,637.5 L1427.5,637.5 L1428.5,638.0 L1429.0,638.1 L1431.5,637.6 L1433.0,638.2 L1435.5,637.4 L1437.0,637.2 L1441.5,637.9 L1443.0,637.8 L1444.0,637.6 L1445.5,637.1 L1446.0,637.3" stroke="#00aa3c"/>
<path d="M152.0,473.5 L153.5,473.3 L155.0,473.7 L157.5,474.1 L160.0,473.6 L161.5,473.4 L162.0,473.5 L163.0,473.9 L164.5,474.2 L167.5,473.2 L168.5,473.2 L169.0,473.4 L170.0,474.0 L170.5,474.0 L171.5,473.7 L173.0,472.9 L174.5,473.5 L175.5,473.2 L176.0,473.1 L177.0,473.3 L178.5,473.3 L180.0,473.2 L181.5,473.6 L184.0,473.2 L185.5,473.5 L187.0,473.7 L188.0,473.1 L188.5,472.8 L189.5,473.2 L190.0,473.2 L191.0,473.0 L191.5,473.1 L192.5,473.3 L194.0,472.9 L195.5,473.3 L198.0,473.2 L199.5,472.9 L201.0,473.1 L202.5,472.8 L203.5,472.8 L204.0,472.8 L205.0,473.2 L205.5,473.2 L206.5,472.8 L207.0,473.0 L208.0,473.6 L209.5,473.3 L210.5,472.7 L211.0,472.6 L212.0,473.1 L212.5,473.1 L213.5,472.8 L215.0,473.1 L216.0,473.1 L216.5,473.0 L217.5,472.5 L218.0,472.5 L219.0,472.9 L219.5,473.0 L220.5,473.0 L222.0,473.4 L223.0,472.8 L223.5,472.7 L224.5,473.1 L225.0,473.2 L226.0,472.7 L226.5,472.7 L227.5,472.9 L229.0,472.7 L230.5,473.5 L231.5,473.2 L232.0,473.2 L233.0,473.7 L233.5,473.7 L234.5,473.2 L237.5,473.2 L238.5,472.8 L239.0,472.7 L240.0,472.8 L241.5,473.3 L243.0,472.7 L244.5,472.9 L246.0,472.9 L247.0,473.0 L247.5,473.0 L248.5,472.7 L251.5,472.9 L252.5,472.8 L254.0,472.5 L254.5,472.6 L255.5,473.0 L256.0,472.9 L257.0,472.3 L259.5,472.3 L260.0,472.4 L261.0,473.0 L261.5,473.0 L262.5,472.6 L264.0,472.4 L265.5,472.3 L266.5,472.7 L267.0,472.7 L268.0,472.4 L269.5,472.2 L271.0,472.8 L272.5,472.2 L274.0,472.5 L275.0,472.6 L276.5,472.4 L278.0,472.5 L279.0,472.8 L279.5,472.9 L281.0,472.3 L283.5,471.8 L285.0,472.3 L286.5,472.2 L287.5,472.3 L288.0,472.3 L289.5,472.1 L292.0,471.9 L293.5,471.9 L295.0,472.0 L296.0,471.8 L296.5,471.8 L297.5,471.9 L299.0,472.5 L300.5,471.9 L301.5,471.3 L302.0,471.3 L303.0,472.1 L303.5,472.1 L306.0,471.2 L307.5,471.8 L310.0,471.3 L313.0,471.1 L315.5,471.7 L316.0,471.7 L317.0,471.4 L317.5,471.3 L318.5,471.5 L320.0,472.1 L321.0,471.3 L321.5,471.0 L322.5,471.4 L323.0,471.5 L325.5,471.1 L326.0,471.1 L327.0,471.1 L328.5,471.5 L329.5,471.6 L330.0,471.6 L331.0,471.4 L331.5,471.4 L334.0,471.8 L335.5,471.7 L337.0,471.8 L338.0,471.8 L339.5,471.8 L341.0,472.2 L342.5,471.8 L343.5,471.7 L344.0,471.7 L345.0,471.8 L345.5,471.7 L346.5,471.3 L348.0,471.4 L349.5,471.8 L351.0,471.7 L352.0,471.8 L352.5,471.7 L355.0,470.6 L356.0,471.4 L356.5,471.7 L358.0,471.2 L359.0,470.6 L359.5,470.6 L360.5,471.2 L361.0,471.1 L362.0,470.7 L363.0,470.2 L363.5,470.0 L365.0,470.4 L366.0,470.3 L366.5,470.5 L367.5,471.0 L368.0,470.8 L369.0,470.2 L370.5,470.4 L373.0,470.3 L374.5,470.1 L377.5,470.7 L379.0,470.5 L380.0,470.1 L380.5,470.0 L381.5,469.9 L383.0,470.4 L384.5,470.1 L386.0,470.0 L387.0,469.8 L387.5,470.0 L388.5,470.9 L389.0,470.9 L390.0,470.6 L391.0,470.1 L391.5,470.0 L393.0,470.6 L394.0,470.7 L394.5,470.4 L395.5,469.4 L396.0,469.5 L397.0,469.9 L398.5,470.0 L399.5,470.2 L400.0,470.2 L401.5,469.9 L404.0,469.8 L405.5,470.4 L406.5,470.4 L407.0,470.3 L408.0,469.7 L408.5,469.5 L409.5,469.4 L410.0,469.8 L411.0,470.8 L412.0,469.9 L412.5,469.6 L418.0,470.8 L419.5,470.6 L420.5,470.3 L421.0,470.3 L422.0,470.5 L422.5,470.5 L423.5,470.2 L425.0,470.4 L426.5,469.3 L428.0,468.3 L429.0,468.0 L429.5,468.1 L430.5,468.3 L432.5,466.9 L433.5,466.3 L435.0,466.6 L436.0,466.6 L437.5,467.0 L439.0,466.6 L440.5,467.8 L441.5,468.3 L442.0,468.4 L443.0,468.5 L444.5,469.2 L446.0,470.5 L447.5,471.1 L450.0,471.6 L451.5,472.2 L452.0,472.2 L453.0,472.0 L454.5,471.9 L455.5,471.7 L456.0,471.7 L457.0,471.9 L458.5,471.9 L460.0,472.8 L461.0,472.0 L461.5,471.7 L463.0,472.1 L464.0,472.0 L465.5,471.4 L467.0,471.8 L468.0,470.9 L468.5,470.5 L470.0,471.2 L471.0,471.3 L471.5,471.1 L472.5,470.2 L473.0,470.2 L474.0,470.4 L475.0,470.9 L475.5,471.1 L477.0,470.5 L478.0,470.3 L478.5,470.2 L479.5,470.4 L481.0,470.3 L482.5,470.6 L486.5,470.0 L488.0,470.2 L489.5,470.6 L491.0,470.2 L492.0,470.3 L492.5,470.2 L495.0,469.5 L496.5,469.7 L497.5,470.0 L498.0,470.1 L499.0,469.9 L502.0,469.2 L503.5,469.7 L505.0,469.5 L507.5,469.4 L509.0,469.6 L510.5,469.6 L512.0,469.7 L513.0,469.6 L514.5,469.7 L516.0,469.4 L517.5,469.0 L520.0,469.1 L521.5,468.8 L524.0,469.0 L524.5,469.0 L526.0,468.2 L527.0,467.9 L527.5,468.0 L528.5,468.7 L529.0,468.6 L530.0,468.2 L531.5,468.3 L532.5,467.7 L533.0,467.7 L534.0,468.3 L534.5,468.4 L537.0,467.6 L538.5,467.3 L540.0,467.3 L542.5,466.9 L544.0,466.4 L545.0,466.9 L545.5,467.0 L547.0,466.3 L549.5,465.9 L551.0,464.6 L552.0,464.9 L552.5,465.0 L554.0,464.2 L556.5,463.6 L558.0,462.9 L559.5,463.1 L561.0,462.2 L562.0,462.0 L563.5,461.9 L566.5,462.7 L568.0,462.5 L569.0,462.4 L569.5,462.7 L570.5,463.5 L571.0,463.5 L572.0,463.1 L573.0,463.8 L573.5,464.0 L577.5,462.7 L579.0,462.6 L580.0,462.2 L580.5,461.9 L582.0,460.5 L584.5,459.0 L586.0,456.6 L587.0,455.3 L587.5,454.7 L588.0,454.4 L588.5,454.1 L589.0,454.0 L589.5,454.0 L590.0,454.2 L590.5,454.5 L591.5,455.6 L592.5,456.4 L593.0,456.8 L594.5,457.4 L595.5,458.2 L596.0,458.4 L597.0,457.9 L597.5,457.9 L598.5,458.3 L600.0,459.6 L601.0,459.6 L601.5,459.7 L602.5,460.1 L604.0,461.1 L605.5,462.3 L606.0,462.3 L607.0,462.0 L608.0,461.7 L608.5,461.6 L609.5,461.0 L610.0,460.8 L611.0,460.8 L611.5,460.7 L613.5,459.7 L614.5,459.1 L616.0,457.7 L616.5,457.0 L617.0,455.7 L617.5,453.9 L619.0,447.6 L619.5,445.2 L620.5,439.3 L621.0,437.4 L622.0,435.2 L622.5,434.4 L623.0,434.0 L623.5,433.9 L624.0,434.2 L624.5,434.8 L625.0,435.9 L627.0,442.9 L629.5,449.1 L632.0,454.6 L634.0,459.9 L635.0,462.0 L636.5,464.4 L637.5,466.2 L638.0,466.8 L640.5,468.4 L642.0,469.8 L642.5,470.0 L643.5,470.1 L646.0,470.2 L648.0,470.6 L650.5,470.9 L651.5,471.1 L653.0,471.1 L654.5,471.5 L656.0,471.7 L657.5,471.8 L659.0,471.5 L660.0,471.6 L661.5,472.0 L663.0,471.8 L664.5,471.8 L665.5,471.1 L666.0,470.9 L667.0,470.8 L667.5,471.0 L668.5,471.6 L669.0,471.7 L670.0,471.6 L671.5,471.8 L674.0,471.1 L675.5,470.9 L677.0,470.2 L678.0,470.7 L678.5,470.9 L679.5,470.4 L680.0,470.3 L681.0,470.6 L684.0,470.5 L685.5,470.6 L687.0,470.1 L688.0,470.1 L689.5,469.9 L691.0,470.1 L692.0,470.5 L692.5,470.7 L693.5,470.2 L694.0,470.1 L695.0,470.4 L695.5,470.5 L697.0,470.4 L699.0,470.3 L699.5,470.3 L700.5,469.8 L701.0,469.7 L703.5,470.5 L704.0,470.2 L705.0,469.6 L706.5,469.8 L707.5,469.6 L708.0,469.6 L709.0,469.8 L709.5,469.8 L710.5,469.4 L711.0,469.6 L712.0,470.2 L713.5,469.4 L714.5,469.1 L715.0,469.2 L716.0,470.0 L716.5,470.0 L719.0,469.6 L720.5,469.5 L722.0,469.1 L723.0,469.1 L724.5,469.3 L727.0,469.3 L727.5,469.3 L730.0,468.7 L730.5,468.6 L731.5,468.7 L733.0,469.0 L734.0,469.0 L734.5,469.0 L736.0,468.3 L737.0,468.2 L737.5,468.3 L738.5,468.7 L739.0,468.6 L740.0,468.4 L741.5,468.2 L742.5,467.7 L743.0,467.5 L744.0,467.7 L745.5,467.6 L747.0,467.7 L748.0,467.1 L748.5,467.0 L749.5,467.6 L750.0,467.7 L751.0,467.4 L752.5,467.2 L754.0,466.4 L756.5,466.7 L757.0,466.6 L758.0,465.6 L758.5,465.5 L759.5,465.7 L761.0,465.5 L762.5,464.7 L763.5,464.8 L764.0,464.8 L765.0,464.3 L765.5,464.2 L766.5,464.4 L768.0,463.9 L769.5,463.7 L770.5,464.0 L771.0,464.0 L772.0,463.7 L772.5,463.6 L773.5,463.7 L775.0,462.9 L776.5,463.3 L778.0,463.9 L779.0,464.0 L780.5,463.9 L782.0,464.4 L783.0,464.1 L783.5,464.0 L784.5,464.5 L785.0,464.7 L786.0,464.7 L786.5,465.0 L787.5,465.9 L789.0,466.4 L790.5,467.3 L792.0,468.4 L793.0,469.3 L793.5,469.4 L794.5,469.2 L795.0,469.4 L796.0,470.0 L797.5,471.4 L798.5,471.5 L799.0,471.7 L800.0,472.7 L800.5,472.9 L801.5,472.9 L805.0,473.7 L805.5,473.7 L805.8,473.6 L806.0,473.3 L806.5,472.0 L806.8,470.7 L807.2,467.9 L807.8,460.5 L808.2,452.5 L808.6,441.3 L809.2,418.1 L810.5,351.6 L811.0,330.0 L811.4,318.9 L811.6,316.1 L811.8,315.2 L812.0,316.3 L812.2,319.3 L812.6,330.6 L813.0,347.5 L814.4,419.5 L815.0,442.7 L815.4,453.8 L816.0,464.8 L816.6,470.7 L817.0,472.7 L817.4,473.9 L817.8,474.6 L818.4,475.0 L820.0,474.8 L821.0,475.1 L821.5,475.0 L822.5,474.7 L824.0,475.1 L825.5,474.8 L828.0,475.1 L829.5,474.9 L831.0,475.2 L833.5,475.1 L834.0,475.2 L835.0,475.4 L835.5,475.3 L836.5,474.6 L838.0,474.4 L839.5,475.2 L841.0,475.4 L842.0,475.7 L842.5,475.6 L843.5,475.3 L845.0,475.3 L846.0,474.9 L846.5,474.7 L847.5,475.1 L848.0,475.3 L849.0,475.2 L849.5,475.1 L850.5,474.7 L851.0,474.6 L852.0,474.7 L853.5,475.0 L854.5,475.1 L855.0,474.9 L856.0,474.1 L856.5,474.2 L857.5,474.9 L858.0,475.0 L859.0,475.1 L860.5,474.9 L863.0,475.1 L863.5,475.0 L864.5,474.6 L866.0,475.1 L868.5,474.6 L869.0,474.6 L871.5,475.4 L872.0,475.1 L873.0,474.4 L875.5,474.3 L876.0,474.5 L877.0,475.4 L877.5,475.4 L878.5,474.8 L880.0,474.8 L881.5,474.5 L883.0,474.4 L884.0,474.1 L884.5,474.2 L885.5,474.8 L887.0,474.9 L888.5,474.1 L890.0,474.4 L891.0,474.4 L892.5,474.7 L894.0,474.8 L895.5,475.1 L897.0,475.1 L898.5,475.0 L899.5,475.1 L901.0,474.2 L902.5,474.5 L903.5,474.9 L904.0,475.0 L905.0,474.7 L906.5,474.6 L908.0,473.9 L909.5,474.0 L910.5,474.6 L911.0,474.8 L913.5,474.4 L915.0,474.4 L916.0,474.0 L916.5,473.9 L918.0,474.6 L920.5,475.0 L922.0,474.5 L923.5,474.3 L924.5,474.1 L925.0,474.1 L926.0,474.7 L926.5,474.9 L927.5,475.0 L929.0,474.2 L930.5,474.5 L932.0,474.3 L933.0,474.2 L934.5,473.5 L935.0,473.6 L936.0,474.2 L937.5,474.4 L938.5,473.9 L939.0,473.8 L940.0,473.9 L940.5,473.8 L941.5,473.2 L942.0,473.5 L943.0,474.7 L944.5,474.4 L948.5,474.0 L950.0,474.1 L951.5,474.0 L955.5,474.2 L957.0,474.6 L958.0,473.9 L958.5,473.6 L959.5,474.0 L960.0,474.1 L962.5,473.7 L964.0,473.2 L965.0,474.0 L965.5,474.2 L966.5,473.8 L967.0,473.7 L968.0,473.8 L969.5,474.2 L971.0,473.6 L972.5,474.0 L974.0,474.0 L975.0,474.2 L976.5,474.3 L978.0,473.7 L979.5,474.3 L981.0,474.0 L983.5,474.1 L985.0,474.6 L986.0,474.3 L986.5,474.2 L988.0,475.0 L989.0,475.5 L989.5,475.6 L990.5,475.4 L991.0,475.8 L992.0,476.6 L993.0,476.2 L993.5,476.1 L994.5,476.6 L995.0,476.7 L996.0,476.8 L997.5,477.1 L999.0,477.3 L1001.5,478.1 L1002.0,478.2 L1003.0,478.1 L1003.5,478.3 L1004.5,478.8 L1006.0,479.1 L1007.4,478.0 L1008.2,478.2 L1008.5,478.1 L1008.8,478.0 L1009.4,476.7 L1009.8,475.5 L1010.4,472.8 L1012.2,462.1 L1012.6,460.6 L1012.8,460.2 L1013.2,459.8 L1013.4,459.9 L1013.6,460.2 L1014.0,461.6 L1014.5,464.2 L1015.8,472.4 L1016.4,475.4 L1016.8,476.8 L1017.2,477.8 L1017.5,478.1 L1018.0,478.4 L1018.6,478.4 L1020.0,479.7 L1021.5,479.2 L1023.0,479.4 L1024.5,479.5 L1027.0,480.0 L1028.5,479.6 L1029.5,479.7 L1030.0,479.6 L1031.0,479.2 L1031.5,479.1 L1032.5,479.3 L1034.0,479.4 L1035.0,478.8 L1035.5,478.6 L1036.5,479.5 L1037.0,479.6 L1038.0,478.8 L1038.5,478.6 L1039.5,478.5 L1041.0,479.4 L1042.0,479.5 L1042.5,479.5 L1043.5,478.7 L1044.0,478.5 L1045.0,478.5 L1045.5,478.8 L1046.5,479.7 L1047.0,479.4 L1048.0,478.7 L1049.0,478.1 L1049.5,477.9 L1051.0,478.5 L1052.0,479.1 L1052.5,479.1 L1053.5,478.8 L1055.0,478.8 L1056.5,478.9 L1057.5,478.8 L1059.0,478.4 L1060.5,478.0 L1061.0,478.1 L1062.0,478.7 L1063.5,478.1 L1065.0,478.6 L1066.0,479.0 L1066.5,479.0 L1067.5,478.7 L1069.0,478.5 L1070.5,478.5 L1072.0,478.8 L1073.0,478.8 L1073.5,478.7 L1074.5,478.1 L1075.0,478.2 L1077.5,479.1 L1079.0,478.7 L1080.0,478.3 L1080.5,478.2 L1081.5,478.3 L1083.0,477.8 L1084.5,478.3 L1085.5,478.9 L1086.0,479.0 L1087.0,478.6 L1088.5,478.2 L1091.5,478.5 L1093.0,478.5 L1095.5,478.2 L1097.0,478.7 L1098.5,479.0 L1099.5,478.5 L1100.0,478.3 L1101.0,478.3 L1101.5,478.4 L1102.5,478.9 L1103.0,478.7 L1104.0,478.0 L1105.5,478.3 L1108.0,478.5 L1109.5,478.4 L1111.0,478.2 L1112.5,478.6 L1114.0,478.1 L1116.5,477.8 L1118.0,478.8 L1119.0,478.1 L1119.5,477.9 L1120.5,478.5 L1121.0,478.7 L1123.5,478.8 L1125.0,478.4 L1126.5,478.3 L1128.0,478.5 L1130.5,478.1 L1132.0,478.9 L1133.0,478.4 L1133.5,478.3 L1134.5,478.9 L1135.0,479.1 L1137.5,478.4 L1140.0,478.9 L1140.5,478.9 L1141.5,478.2 L1142.0,478.0 L1143.0,478.2 L1144.5,478.1 L1146.0,478.6 L1147.5,478.6 L1150.0,478.3 L1151.5,478.3 L1153.0,478.9 L1154.5,478.9 L1156.0,478.5 L1157.0,478.1 L1157.5,478.2 L1158.5,478.7 L1161.5,478.6 L1162.5,479.0 L1163.0,479.1 L1164.0,478.8 L1165.5,478.2 L1166.0,478.2 L1167.0,478.2 L1168.0,478.7 L1168.5,479.0 L1169.5,478.7 L1170.0,478.6 L1171.0,478.8 L1171.5,478.7 L1174.0,478.2 L1176.5,478.9 L1177.0,479.0 L1179.5,478.1 L1181.0,478.3 L1182.5,478.3 L1186.5,479.1 L1188.0,478.4 L1189.5,478.2 L1191.0,478.3 L1193.5,478.1 L1195.0,478.3 L1196.0,478.2 L1196.5,478.2 L1197.5,477.9 L1198.0,477.9 L1199.0,478.3 L1199.5,478.3 L1202.0,477.8 L1203.5,478.3 L1204.5,478.0 L1205.0,478.1 L1206.0,478.6 L1206.5,478.6 L1207.5,478.3 L1209.0,478.1 L1210.5,477.8 L1212.0,478.0 L1213.0,478.3 L1213.5,478.2 L1214.5,477.8 L1216.0,478.3 L1217.0,477.6 L1217.5,477.4 L1219.0,478.1 L1220.0,478.3 L1223.0,478.0 L1224.5,478.3 L1225.5,477.9 L1226.0,477.7 L1227.0,477.7 L1230.0,478.4 L1232.5,478.0 L1233.0,478.0 L1235.5,478.2 L1238.0,477.2 L1238.5,477.1 L1239.5,477.5 L1240.0,477.6 L1241.0,477.5 L1242.5,477.8 L1244.0,477.6 L1245.5,477.8 L1246.5,478.1 L1247.0,478.2 L1249.5,478.0 L1251.0,478.6 L1252.5,477.9 L1253.5,477.9 L1254.0,478.0 L1255.0,478.4 L1255.5,478.3 L1256.5,477.7 L1258.0,477.5 L1259.0,478.2 L1259.5,478.5 L1261.0,478.2 L1265.0,478.4 L1266.5,477.9 L1268.0,478.0 L1269.0,477.7 L1269.5,477.7 L1270.5,478.1 L1271.0,478.1 L1272.0,478.1 L1273.5,477.9 L1275.0,478.4 L1276.0,479.0 L1276.5,478.8 L1277.5,477.7 L1278.0,477.8 L1279.0,478.3 L1281.5,478.4 L1282.0,478.3 L1283.0,477.9 L1283.5,477.9 L1284.5,478.4 L1286.0,478.3 L1287.5,478.0 L1289.0,478.0 L1291.5,478.4 L1293.0,478.4 L1294.0,478.7 L1294.5,478.8 L1295.5,478.1 L1296.0,478.0 L1297.0,478.2 L1297.5,478.2 L1298.5,477.9 L1300.0,478.3 L1303.0,477.8 L1304.0,477.7 L1304.5,477.8 L1305.5,478.2 L1307.0,479.1 L1308.5,480.2 L1310.0,480.5 L1311.0,480.5 L1311.5,480.7 L1314.0,482.1 L1316.0,482.6 L1318.0,483.1 L1318.5,482.8 L1319.0,482.2 L1319.5,481.3 L1320.5,479.1 L1322.5,473.8 L1324.5,470.6 L1325.0,470.0 L1325.5,470.0 L1326.0,470.3 L1328.0,472.6 L1328.2,472.7 L1328.8,472.9 L1329.4,472.8 L1330.0,472.8 L1330.4,472.7 L1330.8,472.5 L1331.4,471.6 L1333.2,467.4 L1333.8,466.3 L1334.0,466.2 L1334.2,466.3 L1334.5,466.8 L1335.0,468.7 L1335.5,471.7 L1336.8,480.7 L1337.4,483.5 L1337.8,484.5 L1338.0,484.8 L1338.5,485.3 L1339.2,485.6 L1342.0,485.5 L1343.5,485.8 L1345.0,485.8 L1346.0,485.7 L1347.5,485.3 L1349.0,485.5 L1350.5,485.0 L1351.5,485.0 L1353.0,485.3 L1354.5,485.2 L1356.0,485.4 L1357.0,486.1 L1357.5,486.4 L1359.0,485.7 L1361.5,484.8 L1363.0,485.3 L1365.5,484.8 L1366.0,484.9 L1367.0,485.7 L1367.5,485.7 L1368.5,485.4 L1370.0,485.7 L1371.0,486.4 L1371.5,486.6 L1372.5,485.9 L1373.0,485.6 L1374.0,485.6 L1375.5,485.7 L1378.5,485.3 L1380.0,485.5 L1381.0,485.9 L1381.5,485.9 L1384.0,485.1 L1386.5,485.2 L1388.5,485.6 L1389.5,485.7 L1391.0,485.7 L1392.5,485.9 L1393.5,485.6 L1394.0,485.5 L1395.0,485.8 L1395.5,485.8 L1396.5,485.7 L1398.0,485.8 L1399.0,485.2 L1399.5,485.0 L1400.5,485.8 L1401.0,485.9 L1402.0,485.2 L1402.5,485.1 L1403.5,485.2 L1405.0,485.9 L1406.0,485.6 L1406.5,485.5 L1407.5,486.0 L1408.0,486.1 L1409.0,485.7 L1410.5,485.3 L1412.0,485.6 L1413.5,485.5 L1414.5,486.0 L1415.0,486.1 L1416.0,486.2 L1417.5,485.9 L1419.0,485.5 L1420.5,485.6 L1421.5,485.9 L1422.0,485.9 L1423.0,485.4 L1423.5,485.3 L1424.5,485.3 L1426.0,485.9 L1427.5,485.8 L1429.0,485.5 L1430.0,485.5 L1430.5,485.4 L1431.5,485.0 L1432.0,485.2 L1433.0,486.0 L1435.5,485.2 L1436.0,485.1 L1438.5,485.3 L1440.0,486.2 L1441.5,485.8 L1442.5,485.3 L1443.0,485.3 L1444.0,486.1 L1444.5,486.2 L1445.5,486.1 L1446.0,485.8" stroke="#00b9d8"/>
<path d="M152.0,284.6 L153.0,284.7 L153.5,284.7 L154.5,283.6 L155.0,283.4 L156.0,284.0 L156.5,284.2 L157.5,284.5 L159.0,284.6 L160.5,284.4 L161.5,284.6 L162.0,284.6 L163.0,284.3 L164.5,284.3 L166.0,284.2 L167.5,283.7 L169.0,283.8 L170.0,284.1 L170.5,284.1 L171.5,283.9 L173.0,284.5 L174.5,284.5 L175.5,284.6 L176.0,284.5 L177.0,284.1 L177.5,284.1 L178.5,284.4 L179.0,284.2 L180.0,283.6 L181.5,283.7 L183.0,284.0 L184.0,284.0 L184.5,283.9 L185.5,283.4 L187.0,283.3 L188.0,283.8 L188.5,284.0 L189.5,283.7 L190.0,283.7 L191.0,284.2 L191.5,284.2 L192.5,284.0 L195.0,283.9 L197.0,284.1 L198.0,283.8 L198.5,283.8 L199.5,284.1 L201.0,283.6 L202.5,283.6 L203.5,283.5 L204.0,283.5 L205.0,283.9 L205.5,283.9 L208.0,283.4 L209.0,284.1 L209.5,284.3 L210.5,283.7 L211.0,283.5 L213.5,283.7 L215.0,284.2 L216.5,283.6 L218.0,283.8 L219.0,283.6 L220.5,283.1 L221.0,283.2 L222.0,283.8 L223.0,283.8 L223.5,283.8 L225.0,283.4 L226.0,283.5 L226.5,283.3 L227.5,283.0 L228.0,282.9 L229.0,282.9 L231.5,283.5 L232.0,283.6 L233.0,283.3 L233.5,283.3 L236.0,283.7 L237.5,283.4 L239.0,283.6 L240.0,283.8 L240.5,283.6 L241.5,282.9 L242.0,283.0 L243.0,283.5 L244.0,282.8 L244.5,282.6 L245.5,283.2 L246.0,283.4 L247.0,283.3 L250.0,282.8 L251.5,283.1 L253.0,283.0 L254.0,283.1 L255.5,282.8 L257.0,283.2 L258.5,282.7 L260.0,282.9 L261.0,282.9 L261.5,283.0 L262.5,283.4 L263.0,283.1 L264.0,282.4 L265.5,282.8 L266.5,283.2 L267.0,283.2 L268.0,282.8 L269.5,282.4 L271.0,282.9 L272.5,282.7 L273.5,283.0 L274.0,283.0 L275.0,282.5 L275.5,282.5 L276.5,282.8 L279.0,283.0 L279.5,283.0 L280.5,282.5 L281.0,282.4 L282.0,283.0 L282.5,283.0 L283.5,282.4 L285.0,282.1 L286.5,282.3 L287.5,282.5 L288.0,282.6 L289.0,282.5 L290.5,282.7 L292.0,282.7 L293.5,282.6 L294.5,282.4 L295.0,282.4 L296.0,282.9 L296.5,282.7 L297.5,281.7 L298.0,281.6 L299.0,281.7 L300.5,282.1 L302.0,281.8 L303.0,281.4 L303.5,281.5 L304.5,281.9 L305.0,282.0 L306.0,281.9 L307.0,281.5 L307.5,281.4 L308.5,282.2 L309.0,282.5 L310.5,282.6 L311.5,282.5 L313.0,281.9 L314.5,282.1 L315.5,281.7 L316.0,281.7 L317.0,282.0 L317.5,282.0 L318.5,281.7 L320.0,282.1 L321.5,281.8 L322.5,282.1 L323.0,282.2 L324.0,282.1 L325.5,282.2 L327.0,281.2 L328.0,281.1 L328.5,281.2 L329.5,281.7 L330.0,281.8 L331.0,281.5 L331.5,281.5 L332.5,281.8 L335.5,281.7 L337.0,281.9 L339.5,281.7 L341.0,281.2 L342.0,281.8 L342.5,282.0 L343.5,281.6 L344.0,281.5 L345.0,281.7 L345.5,281.7 L346.5,281.5 L348.0,281.8 L349.5,281.4 L352.0,281.3 L353.5,281.0 L357.5,281.2 L359.0,280.9 L359.5,281.1 L360.5,281.9 L361.0,281.6 L362.0,280.8 L363.5,281.0 L364.5,281.7 L365.0,281.7 L366.0,280.9 L366.5,280.9 L367.5,281.2 L369.0,281.1 L372.0,280.3 L373.0,280.2 L373.5,280.3 L374.5,280.6 L376.0,280.7 L377.0,280.0 L377.5,279.7 L378.5,280.2 L379.0,280.3 L380.0,280.1 L380.5,280.1 L381.5,280.4 L383.0,280.1 L384.5,279.6 L387.0,279.7 L388.5,280.1 L390.0,280.6 L391.5,279.5 L393.0,279.4 L394.0,279.5 L395.5,279.2 L397.0,279.3 L399.5,279.0 L401.0,278.6 L401.5,278.6 L404.0,279.1 L405.5,278.8 L406.5,279.2 L407.0,279.2 L408.0,279.1 L409.5,278.8 L411.0,279.5 L412.0,278.8 L412.5,278.6 L414.0,279.4 L415.0,279.6 L415.5,279.5 L416.5,279.1 L417.0,279.0 L418.0,279.1 L419.5,279.6 L420.5,279.7 L421.0,279.7 L422.5,279.5 L423.5,279.4 L425.0,279.7 L426.5,279.3 L427.5,278.7 L428.0,278.5 L429.0,278.5 L430.5,278.1 L432.0,277.1 L433.5,277.3 L434.5,276.7 L435.0,276.6 L436.0,276.9 L436.5,276.7 L437.5,276.2 L438.0,276.3 L439.0,276.8 L440.0,277.1 L440.5,277.4 L441.5,278.6 L442.0,279.1 L444.5,280.4 L446.0,280.9 L447.5,281.2 L448.5,281.5 L449.0,281.5 L450.0,281.2 L450.5,281.3 L451.5,282.0 L452.0,282.0 L453.0,281.9 L454.5,281.9 L455.5,281.7 L456.0,281.7 L457.0,282.3 L457.5,282.4 L458.5,282.1 L460.0,281.4 L461.5,282.1 L464.0,281.5 L464.5,281.5 L465.5,281.6 L467.0,281.4 L468.5,280.8 L469.5,280.9 L470.0,281.1 L471.0,281.5 L471.5,281.5 L474.0,281.2 L475.5,280.5 L479.5,280.8 L481.0,280.1 L482.0,280.0 L482.5,280.0 L483.5,280.5 L484.0,280.6 L485.5,280.2 L488.0,279.8 L489.0,279.8 L489.5,279.8 L490.5,280.3 L491.0,280.4 L492.0,280.2 L493.5,279.7 L495.0,279.3 L496.5,280.3 L497.5,280.2 L500.5,279.8 L502.0,278.8 L503.5,279.0 L504.5,279.4 L505.0,279.5 L506.0,279.2 L507.5,279.3 L509.0,279.0 L510.0,278.9 L510.5,278.9 L511.5,279.1 L512.0,279.1 L513.0,278.8 L513.5,278.8 L516.0,278.8 L517.5,278.7 L519.0,278.8 L520.0,278.8 L520.5,278.5 L521.5,277.7 L522.0,277.7 L523.0,277.8 L524.5,277.5 L525.5,277.8 L526.0,277.7 L527.0,277.1 L527.5,277.1 L528.5,277.4 L529.0,277.4 L531.5,277.0 L532.5,276.5 L533.0,276.4 L534.0,276.4 L534.5,276.4 L535.5,276.0 L537.0,276.4 L538.5,276.4 L539.5,275.7 L540.0,275.5 L542.5,275.8 L544.0,275.6 L545.0,276.1 L545.5,276.3 L546.5,275.9 L547.0,275.8 L548.0,275.9 L548.5,275.9 L549.5,275.6 L550.0,275.9 L551.0,276.5 L552.5,275.9 L553.5,275.8 L554.0,275.6 L555.0,275.0 L556.5,273.5 L557.0,273.2 L559.5,272.3 L560.5,272.3 L561.0,272.2 L562.0,271.8 L562.5,271.7 L563.5,271.9 L566.5,272.1 L568.0,272.5 L569.0,272.4 L570.5,272.0 L572.0,272.4 L573.0,273.1 L573.5,273.3 L574.5,272.6 L575.0,272.5 L576.0,273.1 L576.5,273.1 L577.5,272.9 L579.0,271.4 L580.5,271.0 L581.5,270.0 L582.0,269.7 L583.0,269.3 L583.5,268.7 L584.5,267.2 L586.0,265.2 L587.0,264.5 L588.0,264.0 L588.5,263.9 L589.0,263.9 L590.0,264.2 L590.5,264.6 L591.5,265.6 L593.0,266.8 L594.5,267.8 L595.5,268.5 L597.0,269.4 L597.5,269.4 L598.5,268.9 L599.0,268.9 L600.0,268.9 L600.5,269.1 L601.5,269.5 L602.5,270.5 L603.0,270.9 L604.0,271.3 L605.5,272.0 L606.0,272.0 L607.0,271.6 L608.5,271.8 L610.0,271.5 L611.0,271.6 L611.5,271.4 L612.5,270.5 L613.5,269.4 L614.0,268.7 L614.5,268.5 L615.0,268.1 L615.5,267.4 L616.5,265.4 L617.5,262.8 L618.0,260.9 L619.5,253.1 L621.0,248.7 L622.5,244.0 L623.0,242.8 L623.5,242.0 L624.0,241.7 L624.5,242.0 L625.0,242.9 L627.5,250.1 L628.0,251.3 L629.5,254.1 L631.0,257.5 L635.0,269.5 L637.5,274.9 L638.5,276.5 L639.5,277.8 L640.5,278.9 L641.0,279.2 L642.0,279.6 L643.0,280.4 L643.5,280.7 L645.0,280.8 L646.0,280.7 L646.5,280.8 L647.5,281.2 L649.0,281.1 L650.5,281.2 L651.5,281.1 L652.0,281.3 L653.0,282.0 L653.5,282.2 L654.5,282.1 L656.0,281.3 L657.5,282.3 L658.5,282.2 L659.0,282.2 L660.0,281.8 L660.5,281.8 L661.5,282.0 L663.0,282.6 L664.5,281.9 L666.0,281.9 L667.0,282.0 L667.5,281.9 L668.5,281.3 L669.0,281.2 L671.5,280.9 L674.0,281.5 L674.5,281.4 L675.5,280.9 L677.0,280.6 L678.5,281.1 L679.5,280.9 L680.0,280.9 L681.0,281.2 L683.0,280.9 L686.5,280.9 L687.0,280.9 L688.0,280.6 L689.5,280.5 L691.0,281.4 L692.0,281.8 L692.5,281.9 L694.0,281.1 L695.0,280.4 L695.5,280.4 L696.5,280.8 L698.0,281.2 L699.0,280.5 L699.5,280.2 L701.0,280.6 L702.0,280.6 L703.5,280.4 L705.0,280.4 L706.0,280.8 L706.5,281.0 L707.5,280.6 L708.0,280.5 L709.0,280.5 L709.5,280.6 L710.5,281.1 L711.0,280.9 L712.0,280.2 L713.0,279.9 L713.5,279.8 L715.0,280.7 L716.0,281.0 L716.5,280.9 L717.5,280.4 L719.0,280.3 L720.5,279.7 L721.5,279.7 L722.0,279.8 L723.0,280.4 L723.5,280.5 L725.0,280.2 L726.0,280.0 L727.5,279.4 L729.0,279.2 L731.5,279.0 L733.0,279.5 L734.5,278.9 L736.0,278.9 L737.0,279.1 L737.5,279.1 L738.5,279.0 L740.0,278.6 L741.5,278.6 L743.0,278.2 L744.0,277.6 L744.5,277.6 L745.5,278.0 L748.0,277.7 L750.0,277.6 L751.0,277.3 L751.5,277.3 L752.5,277.6 L753.0,277.5 L754.0,276.9 L756.5,276.5 L758.0,275.9 L759.5,275.8 L761.0,275.4 L762.5,274.9 L764.0,274.0 L765.0,273.7 L766.5,273.4 L768.0,273.4 L769.0,272.7 L769.5,272.5 L771.0,272.7 L772.0,272.6 L773.5,272.8 L775.0,272.8 L776.5,273.6 L778.0,273.7 L779.0,273.9 L779.5,273.9 L780.5,273.6 L781.0,273.6 L782.0,273.9 L783.5,274.4 L785.0,275.3 L786.0,275.6 L786.5,275.6 L787.5,275.4 L788.0,275.7 L790.0,277.2 L790.5,277.5 L791.5,277.2 L792.0,277.2 L793.0,277.9 L794.5,279.2 L796.0,279.7 L797.0,279.8 L797.5,279.9 L798.5,281.2 L799.0,281.6 L801.0,282.6 L801.5,282.8 L802.0,282.9 L803.0,282.7 L803.8,283.2 L804.8,283.5 L805.5,283.6 L805.8,283.5 L806.0,283.2 L806.5,281.9 L806.8,280.7 L807.2,277.9 L807.8,270.8 L808.2,263.0 L808.6,252.0 L809.2,229.2 L810.5,164.3 L811.0,143.6 L811.4,133.1 L811.6,130.3 L811.8,129.4 L812.0,130.3 L812.2,133.2 L812.6,144.0 L813.0,160.6 L814.4,231.0 L815.0,253.7 L815.4,264.7 L816.0,275.4 L816.5,280.3 L816.8,282.1 L817.4,284.4 L817.8,285.3 L818.4,286.1 L819.6,285.4 L820.0,285.3 L822.5,285.9 L824.0,285.4 L825.5,285.3 L826.5,285.7 L827.0,285.9 L828.5,285.8 L830.0,286.0 L831.0,286.2 L832.0,286.6 L832.5,286.8 L833.5,286.1 L834.0,286.0 L835.0,286.8 L835.5,286.8 L836.5,286.2 L838.0,286.1 L839.0,285.4 L839.5,285.2 L841.0,285.7 L842.0,286.2 L843.5,286.4 L845.0,285.9 L846.5,286.3 L847.5,286.5 L848.0,286.4 L850.5,285.6 L856.0,286.4 L856.5,286.3 L857.5,285.9 L859.0,286.2 L860.5,286.1 L861.5,286.1 L863.0,286.5 L864.5,286.6 L866.0,285.9 L869.0,285.9 L873.0,286.0 L876.0,285.6 L877.0,285.6 L878.5,286.0 L880.0,286.8 L881.5,286.1 L883.0,286.1 L885.5,285.9 L887.0,286.6 L888.5,285.7 L890.0,285.5 L891.0,285.4 L891.5,285.5 L892.5,285.8 L894.0,285.5 L896.5,285.5 L898.0,285.3 L898.5,285.4 L899.5,285.8 L900.0,285.6 L901.0,285.1 L902.0,286.1 L902.5,286.4 L903.5,285.1 L904.0,284.8 L906.5,285.7 L908.0,285.8 L909.5,285.5 L911.0,285.7 L913.5,285.7 L915.0,285.8 L917.5,285.6 L919.0,285.5 L920.5,285.8 L922.0,285.5 L924.5,286.0 L925.0,286.0 L926.0,285.7 L926.5,285.7 L927.5,285.9 L929.0,285.3 L930.5,285.6 L931.5,285.6 L933.0,285.5 L934.5,285.6 L936.0,285.9 L937.5,285.3 L939.0,285.2 L940.0,285.4 L940.5,285.3 L941.5,284.9 L944.5,285.7 L945.5,285.4 L946.0,285.3 L947.0,285.4 L948.5,285.4 L950.0,285.7 L951.5,285.4 L952.5,285.3 L953.0,285.1 L954.0,284.2 L954.5,284.3 L955.5,285.0 L957.0,285.4 L959.5,285.0 L960.0,285.0 L961.0,285.4 L961.5,285.3 L962.5,284.9 L964.0,285.0 L965.5,285.3 L966.5,285.0 L967.0,285.0 L968.0,285.1 L969.5,285.1 L971.0,284.7 L972.5,284.9 L974.0,285.0 L975.0,284.9 L975.5,285.0 L976.5,285.4 L978.0,285.1 L980.5,284.6 L981.0,284.6 L982.0,284.9 L983.5,285.7 L985.0,285.3 L986.5,286.0 L988.0,286.1 L989.5,286.2 L990.5,286.3 L992.0,287.2 L993.0,286.9 L993.5,286.9 L994.5,287.7 L995.0,287.9 L996.0,287.8 L996.5,288.0 L997.5,288.7 L998.0,288.8 L999.0,288.7 L1000.5,289.1 L1001.5,289.6 L1002.0,289.6 L1003.0,289.2 L1003.5,289.2 L1004.5,289.6 L1006.0,289.5 L1007.4,289.7 L1008.0,289.5 L1008.6,288.9 L1009.2,287.7 L1009.6,286.4 L1010.4,282.6 L1012.0,272.2 L1012.5,270.1 L1012.8,269.4 L1013.0,269.3 L1013.2,269.6 L1013.4,270.0 L1013.8,271.7 L1015.5,282.8 L1016.4,287.2 L1016.8,288.5 L1017.4,289.7 L1018.0,290.3 L1018.6,290.6 L1020.0,290.2 L1021.0,290.3 L1021.5,290.3 L1022.5,290.7 L1023.0,290.8 L1024.0,290.7 L1024.5,290.8 L1025.5,291.1 L1026.0,290.8 L1027.0,289.8 L1028.5,290.8 L1029.5,291.0 L1030.0,291.0 L1031.0,290.8 L1031.5,290.8 L1032.5,290.9 L1034.0,290.7 L1035.0,290.7 L1035.5,290.7 L1036.5,290.9 L1037.0,290.9 L1038.0,290.3 L1039.5,289.9 L1040.0,290.2 L1041.0,290.8 L1043.5,290.7 L1046.5,290.9 L1048.0,290.5 L1049.5,290.8 L1050.5,290.8 L1051.0,290.7 L1052.0,290.3 L1052.5,290.3 L1053.5,290.6 L1055.0,290.8 L1056.5,290.4 L1057.5,290.9 L1058.0,291.0 L1059.0,290.6 L1059.5,290.6 L1060.5,290.9 L1062.0,291.2 L1063.5,290.1 L1064.5,290.2 L1065.0,290.3 L1066.0,290.8 L1066.5,290.8 L1067.5,290.6 L1069.0,290.8 L1070.0,291.1 L1070.5,291.2 L1071.5,290.6 L1072.0,290.5 L1073.0,290.9 L1073.5,290.8 L1074.5,290.6 L1076.0,290.4 L1077.5,290.8 L1079.0,290.7 L1080.0,290.9 L1080.5,290.9 L1081.5,290.7 L1083.0,290.9 L1084.5,290.7 L1085.5,290.2 L1086.0,290.1 L1087.0,290.4 L1088.5,290.5 L1090.0,290.9 L1091.5,290.2 L1092.5,290.5 L1093.0,290.6 L1094.0,290.5 L1095.5,290.0 L1097.0,290.5 L1098.5,290.7 L1099.5,290.5 L1100.0,290.5 L1101.0,290.8 L1101.5,290.8 L1102.5,290.7 L1104.0,290.6 L1105.5,290.3 L1108.0,290.6 L1108.5,290.6 L1109.5,290.5 L1111.0,290.1 L1112.5,290.4 L1115.0,290.8 L1115.5,290.8 L1116.5,290.8 L1118.0,290.1 L1119.0,290.5 L1119.5,290.6 L1120.5,290.0 L1121.0,289.9 L1122.0,290.1 L1123.5,290.1 L1125.0,290.9 L1126.5,290.6 L1128.0,290.4 L1129.0,290.2 L1129.5,290.3 L1130.5,290.8 L1131.0,290.6 L1132.0,290.3 L1134.5,290.7 L1135.0,290.6 L1136.0,290.3 L1136.5,290.3 L1137.5,290.5 L1139.0,289.6 L1140.0,290.2 L1140.5,290.4 L1141.5,289.9 L1142.0,289.8 L1143.0,290.3 L1143.5,290.4 L1146.0,290.4 L1147.0,290.9 L1147.5,290.9 L1148.5,289.7 L1149.0,289.5 L1150.0,290.2 L1150.5,290.3 L1151.5,290.1 L1153.0,290.4 L1158.5,289.9 L1160.0,290.2 L1161.0,289.8 L1161.5,289.6 L1162.5,290.3 L1163.0,290.4 L1164.0,290.0 L1164.5,289.9 L1165.5,290.2 L1167.0,289.6 L1168.5,290.2 L1169.5,290.0 L1170.0,290.0 L1171.0,290.2 L1172.5,290.3 L1174.0,289.6 L1175.5,289.7 L1177.0,289.7 L1178.0,289.9 L1178.5,289.7 L1179.5,288.9 L1180.0,289.0 L1181.0,289.4 L1182.5,289.0 L1183.5,288.7 L1184.0,288.6 L1185.0,288.9 L1186.5,288.8 L1188.0,289.4 L1189.0,288.9 L1189.5,288.8 L1190.5,289.3 L1191.0,289.4 L1192.0,289.1 L1192.5,289.1 L1193.5,289.5 L1194.0,289.3 L1195.0,288.7 L1197.5,289.5 L1198.0,289.5 L1199.0,289.3 L1200.5,289.1 L1202.0,289.7 L1203.5,290.1 L1205.0,289.9 L1206.0,289.9 L1207.5,290.2 L1209.0,290.0 L1210.5,290.5 L1211.5,290.6 L1212.0,290.5 L1213.0,289.9 L1213.5,290.0 L1214.5,290.6 L1215.0,290.6 L1217.5,290.4 L1221.5,291.0 L1223.0,290.9 L1224.0,290.4 L1224.5,290.3 L1225.5,290.7 L1226.0,290.6 L1227.0,289.9 L1227.5,289.9 L1228.5,290.5 L1229.0,290.6 L1231.5,290.6 L1232.5,290.1 L1233.0,290.1 L1234.0,290.7 L1234.5,290.8 L1235.5,290.7 L1236.0,290.6 L1238.5,289.8 L1239.5,290.2 L1240.0,290.3 L1241.0,290.0 L1242.5,289.7 L1244.0,290.0 L1245.0,290.7 L1245.5,290.9 L1246.5,290.0 L1247.0,289.7 L1248.0,290.0 L1251.0,290.5 L1252.5,289.8 L1253.5,289.8 L1254.0,289.9 L1255.0,290.4 L1255.5,290.4 L1256.5,290.2 L1258.0,290.5 L1259.0,289.9 L1259.5,289.7 L1262.0,290.4 L1262.5,290.3 L1263.5,290.1 L1265.0,289.7 L1266.0,290.0 L1266.5,290.0 L1267.5,289.5 L1268.0,289.4 L1269.0,289.7 L1270.5,290.3 L1272.0,290.3 L1273.5,290.2 L1274.5,290.2 L1275.0,290.1 L1276.0,289.6 L1276.5,289.5 L1277.5,289.7 L1279.0,290.3 L1280.5,290.7 L1282.0,290.0 L1283.0,289.7 L1283.5,289.6 L1284.5,289.6 L1286.0,290.4 L1287.5,290.3 L1288.5,289.7 L1289.0,289.6 L1291.5,290.4 L1293.0,290.4 L1294.5,289.7 L1297.0,290.0 L1297.5,289.9 L1298.5,289.6 L1300.0,289.3 L1301.5,289.7 L1302.5,290.2 L1303.0,290.3 L1305.5,290.5 L1307.0,290.5 L1308.0,290.7 L1308.5,290.8 L1312.5,293.7 L1313.0,293.7 L1314.0,293.6 L1315.0,294.2 L1315.5,294.4 L1317.0,294.0 L1318.5,293.8 L1319.0,293.7 L1319.5,293.3 L1320.5,291.3 L1322.5,286.7 L1323.5,284.2 L1324.0,283.3 L1324.5,282.8 L1325.0,282.4 L1326.0,281.2 L1326.5,280.8 L1327.0,281.1 L1328.0,282.7 L1329.8,284.3 L1330.2,284.5 L1330.5,284.5 L1331.2,284.1 L1331.8,283.3 L1332.2,282.4 L1333.8,276.1 L1334.2,275.0 L1334.4,274.9 L1334.5,274.9 L1334.8,275.2 L1335.0,275.8 L1335.4,277.8 L1337.0,291.3 L1337.5,294.6 L1337.8,295.9 L1338.2,297.0 L1338.6,297.7 L1339.2,298.3 L1339.8,298.0 L1340.6,297.5 L1342.0,298.5 L1344.5,297.8 L1345.0,297.8 L1346.0,298.2 L1346.5,298.3 L1347.5,298.2 L1349.0,298.1 L1350.5,298.3 L1351.5,297.8 L1352.0,297.6 L1353.0,297.5 L1354.5,297.8 L1356.0,298.4 L1360.0,297.9 L1361.5,298.0 L1363.0,298.5 L1364.5,297.9 L1365.5,297.9 L1367.5,298.2 L1368.5,298.3 L1370.0,298.1 L1371.5,298.5 L1375.5,297.3 L1376.0,297.7 L1377.0,298.5 L1378.5,298.0 L1381.0,298.2 L1382.5,298.5 L1383.0,298.5 L1385.5,298.4 L1388.0,298.0 L1389.5,298.2 L1391.0,297.8 L1392.5,298.3 L1394.0,298.5 L1396.5,298.2 L1398.0,297.8 L1399.0,297.8 L1402.0,297.9 L1403.5,298.2 L1406.5,298.3 L1407.5,298.4 L1408.0,298.4 L1409.0,297.9 L1409.5,297.8 L1412.0,298.3 L1413.0,298.4 L1413.5,298.3 L1415.0,297.9 L1416.0,297.9 L1416.5,298.0 L1417.5,298.5 L1418.0,298.5 L1420.5,298.2 L1423.0,297.8 L1425.0,298.1 L1428.5,298.4 L1429.0,298.4 L1430.0,298.2 L1430.5,298.2 L1431.5,298.5 L1433.0,298.0 L1434.5,298.2 L1435.5,298.1 L1436.0,298.0 L1437.0,297.6 L1437.5,297.5 L1441.5,298.2 L1443.0,298.3 L1444.0,298.5 L1444.5,298.5 L1445.5,298.1 L1446.0,298.1" stroke="#005aa5"/>
</g>
<!-- OVERLAY -->
<rect x="786.3" y="101" width="52.5" height="812.8" fill="rgba(255,40,20,0.1)" stroke="#ff0000" stroke-width="3" stroke-dasharray="12.5 10"/>
<!-- dashed guide lines -->
<line x1="1011.6" y1="225.2" x2="1011.6" y2="990" stroke="#808080" stroke-width="2.8" stroke-dasharray="12.9 9.6"/>
<line x1="1331.6" y1="225.2" x2="1331.6" y2="990" stroke="#808080" stroke-width="2.8" stroke-dasharray="12.9 9.6"/>
<polygon points="993.3,187 1028.8,187 1011.3,217.6" fill="#808080"/>
<polygon points="1314.4,188 1348.4,188 1331.4,217.1" fill="#808080"/>
<!-- frame -->
<rect x="151.5" y="33" width="1294.8" height="956.5" fill="none" stroke="#000" stroke-width="4"/>
<g stroke="#000" stroke-width="3.5">
<line x1="410.5" y1="989" x2="410.5" y2="971"/>
<line x1="669.5" y1="989" x2="669.5" y2="971"/>
<line x1="928.4" y1="989" x2="928.4" y2="971"/>
<line x1="1187.4" y1="989" x2="1187.4" y2="971"/>
<line x1="281" y1="989" x2="281" y2="980"/>
<line x1="540" y1="989" x2="540" y2="980"/>
<line x1="798.9" y1="989" x2="798.9" y2="980"/>
<line x1="1057.9" y1="989" x2="1057.9" y2="980"/>
<line x1="1316.8" y1="989" x2="1316.8" y2="980"/>
</g>
<!-- tick labels -->
<g font-size="63" text-anchor="middle" fill="#000">
<text transform="translate(151.5,1059.3) scale(1,1.041)">1200</text>
<text transform="translate(410.5,1059.3) scale(1,1.041)">1000</text>
<text transform="translate(669.5,1059.3) scale(1,1.041)">800</text>
<text transform="translate(928.4,1059.3) scale(1,1.041)">600</text>
<text transform="translate(1187.4,1059.3) scale(1,1.041)">400</text>
<text transform="translate(1446.3,1059.3) scale(1,1.041)">200</text>
</g>
<text transform="translate(800.3,1152.3) scale(1,1.012)" font-size="63" text-anchor="middle">Binding energy (eV)</text>
<text transform="translate(85.2,510.9) rotate(-90) scale(1,1.012)" font-size="63" text-anchor="middle">Intensity (a.u.)</text>
<!-- labels -->
<text transform="translate(857.6,103.5) scale(1,1.03)" font-size="51.8" fill="#ff0000">F 1s</text>
<text transform="translate(994.3,165.8) scale(1,1.03)" font-size="52" fill="#000">O 1s</text>
<text transform="translate(1310.3,164.6) scale(1,1.015)" font-size="52" fill="#000">C 1s</text>
<!-- legend -->
<g stroke-width="10" stroke-linecap="round">
<line x1="176" y1="89" x2="226" y2="89" stroke="#005aa5"/>
<line x1="350" y1="89" x2="400" y2="89" stroke="#00b9d8"/>
<line x1="523" y1="89" x2="574" y2="89" stroke="#00aa3c"/>
<line x1="176" y1="164.3" x2="226" y2="164.3" stroke="#ff7f00"/>
<line x1="350" y1="164.3" x2="400" y2="164.3" stroke="#e60000"/>
<line x1="519.2" y1="164.3" x2="577.8" y2="164.3" stroke="#404040" stroke-linecap="butt"/>
</g>
<g font-size="61.4" fill="#000">
<text transform="translate(258.75,109.5) scale(1,1.078)">T5</text>
<text transform="translate(432.55,109.5) scale(1,1.078)">T4</text>
<text transform="translate(607.35,109.5) scale(1,1.078)">T3</text>
<text transform="translate(258.75,186.6) scale(1,1.078)">T2</text>
<text transform="translate(432.55,186.6) scale(1,1.078)">T1</text>
<text transform="translate(607.35,186.6) scale(1,1.078)">T0</text>
</g>
</svg>
</body>
</html>
